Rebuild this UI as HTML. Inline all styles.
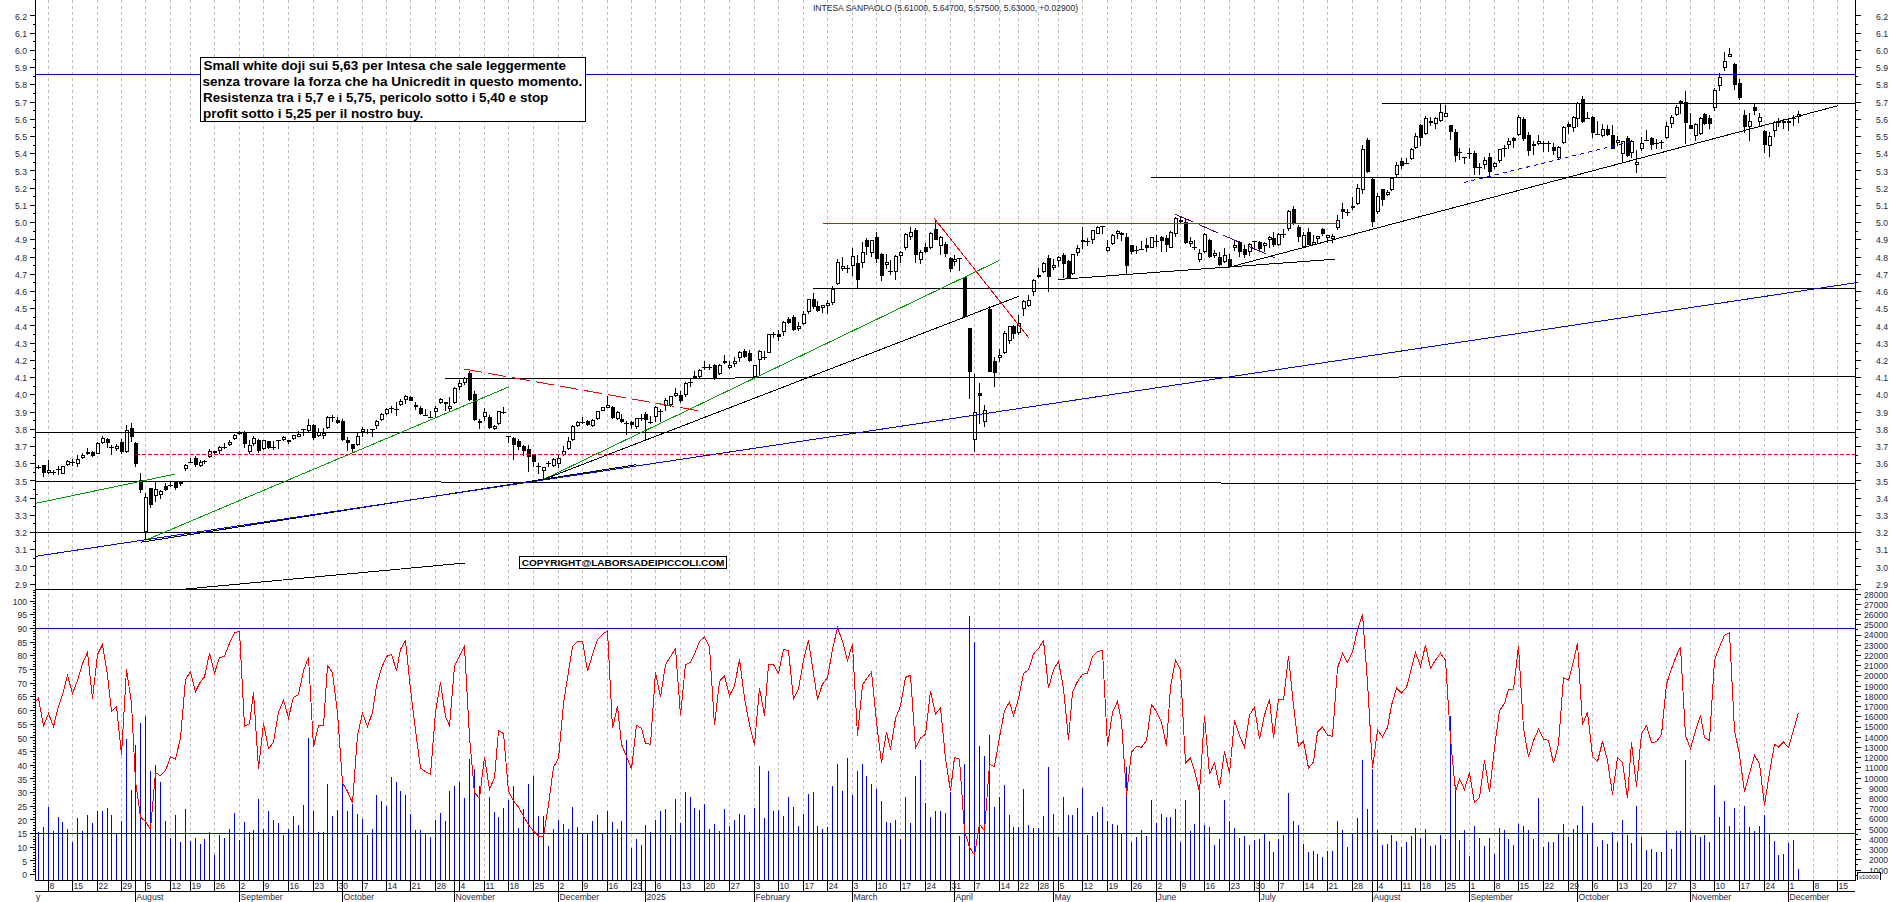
<!DOCTYPE html><html><head><meta charset="utf-8"><title>INTESA SANPAOLO</title>
<style>html,body{margin:0;padding:0;background:#fff}svg{display:block}text{font-family:"Liberation Sans",Arial,sans-serif}</style></head><body>
<svg width="1890" height="902" viewBox="0 0 1890 902">
<rect width="1890" height="902" fill="#fff"/>
<g stroke="#c0c0c0" stroke-width="1" stroke-dasharray="3 3" shape-rendering="crispEdges">
<line x1="48.5" y1="0" x2="48.5" y2="880"/>
<line x1="72.5" y1="0" x2="72.5" y2="880"/>
<line x1="97.5" y1="0" x2="97.5" y2="880"/>
<line x1="121.5" y1="0" x2="121.5" y2="880"/>
<line x1="145.5" y1="0" x2="145.5" y2="880"/>
<line x1="170.5" y1="0" x2="170.5" y2="880"/>
<line x1="190.5" y1="0" x2="190.5" y2="880"/>
<line x1="214.5" y1="0" x2="214.5" y2="880"/>
<line x1="239.5" y1="0" x2="239.5" y2="880"/>
<line x1="263.5" y1="0" x2="263.5" y2="880"/>
<line x1="288.5" y1="0" x2="288.5" y2="880"/>
<line x1="313.5" y1="0" x2="313.5" y2="880"/>
<line x1="337.5" y1="0" x2="337.5" y2="880"/>
<line x1="362.5" y1="0" x2="362.5" y2="880"/>
<line x1="386.5" y1="0" x2="386.5" y2="880"/>
<line x1="410.5" y1="0" x2="410.5" y2="880"/>
<line x1="435.5" y1="0" x2="435.5" y2="880"/>
<line x1="459.5" y1="0" x2="459.5" y2="880"/>
<line x1="484.5" y1="0" x2="484.5" y2="880"/>
<line x1="508.5" y1="0" x2="508.5" y2="880"/>
<line x1="533.5" y1="0" x2="533.5" y2="880"/>
<line x1="558.5" y1="0" x2="558.5" y2="880"/>
<line x1="582.5" y1="0" x2="582.5" y2="880"/>
<line x1="607.5" y1="0" x2="607.5" y2="880"/>
<line x1="631.5" y1="0" x2="631.5" y2="880"/>
<line x1="655.5" y1="0" x2="655.5" y2="880"/>
<line x1="680.5" y1="0" x2="680.5" y2="880"/>
<line x1="704.5" y1="0" x2="704.5" y2="880"/>
<line x1="729.5" y1="0" x2="729.5" y2="880"/>
<line x1="754.5" y1="0" x2="754.5" y2="880"/>
<line x1="778.5" y1="0" x2="778.5" y2="880"/>
<line x1="803.5" y1="0" x2="803.5" y2="880"/>
<line x1="827.5" y1="0" x2="827.5" y2="880"/>
<line x1="852.5" y1="0" x2="852.5" y2="880"/>
<line x1="876.5" y1="0" x2="876.5" y2="880"/>
<line x1="900.5" y1="0" x2="900.5" y2="880"/>
<line x1="925.5" y1="0" x2="925.5" y2="880"/>
<line x1="950.5" y1="0" x2="950.5" y2="880"/>
<line x1="974.5" y1="0" x2="974.5" y2="880"/>
<line x1="999.5" y1="0" x2="999.5" y2="880"/>
<line x1="1018.5" y1="0" x2="1018.5" y2="880"/>
<line x1="1038.5" y1="0" x2="1038.5" y2="880"/>
<line x1="1058.5" y1="0" x2="1058.5" y2="880"/>
<line x1="1082.5" y1="0" x2="1082.5" y2="880"/>
<line x1="1107.5" y1="0" x2="1107.5" y2="880"/>
<line x1="1131.5" y1="0" x2="1131.5" y2="880"/>
<line x1="1156.5" y1="0" x2="1156.5" y2="880"/>
<line x1="1180.5" y1="0" x2="1180.5" y2="880"/>
<line x1="1204.5" y1="0" x2="1204.5" y2="880"/>
<line x1="1229.5" y1="0" x2="1229.5" y2="880"/>
<line x1="1254.5" y1="0" x2="1254.5" y2="880"/>
<line x1="1278.5" y1="0" x2="1278.5" y2="880"/>
<line x1="1303.5" y1="0" x2="1303.5" y2="880"/>
<line x1="1327.5" y1="0" x2="1327.5" y2="880"/>
<line x1="1352.5" y1="0" x2="1352.5" y2="880"/>
<line x1="1377.5" y1="0" x2="1377.5" y2="880"/>
<line x1="1401.5" y1="0" x2="1401.5" y2="880"/>
<line x1="1420.5" y1="0" x2="1420.5" y2="880"/>
<line x1="1445.5" y1="0" x2="1445.5" y2="880"/>
<line x1="1469.5" y1="0" x2="1469.5" y2="880"/>
<line x1="1494.5" y1="0" x2="1494.5" y2="880"/>
<line x1="1518.5" y1="0" x2="1518.5" y2="880"/>
<line x1="1543.5" y1="0" x2="1543.5" y2="880"/>
<line x1="1568.5" y1="0" x2="1568.5" y2="880"/>
<line x1="1592.5" y1="0" x2="1592.5" y2="880"/>
<line x1="1617.5" y1="0" x2="1617.5" y2="880"/>
<line x1="1641.5" y1="0" x2="1641.5" y2="880"/>
<line x1="1666.5" y1="0" x2="1666.5" y2="880"/>
<line x1="1690.5" y1="0" x2="1690.5" y2="880"/>
<line x1="1714.5" y1="0" x2="1714.5" y2="880"/>
<line x1="1739.5" y1="0" x2="1739.5" y2="880"/>
<line x1="1764.5" y1="0" x2="1764.5" y2="880"/>
<line x1="1788.5" y1="0" x2="1788.5" y2="880"/>
<line x1="1813.5" y1="0" x2="1813.5" y2="880"/>
<line x1="1837.5" y1="0" x2="1837.5" y2="880"/>
</g>
<g stroke="#0000ff" stroke-width="1" shape-rendering="crispEdges">
<line x1="38.5" y1="832" x2="38.5" y2="880"/>
<line x1="43.5" y1="827" x2="43.5" y2="880"/>
<line x1="48.5" y1="807" x2="48.5" y2="880"/>
<line x1="53.5" y1="831" x2="53.5" y2="880"/>
<line x1="58.5" y1="817" x2="58.5" y2="880"/>
<line x1="62.5" y1="822" x2="62.5" y2="880"/>
<line x1="67.5" y1="829" x2="67.5" y2="880"/>
<line x1="72.5" y1="842" x2="72.5" y2="880"/>
<line x1="77.5" y1="818" x2="77.5" y2="880"/>
<line x1="82.5" y1="831" x2="82.5" y2="880"/>
<line x1="87.5" y1="815" x2="87.5" y2="880"/>
<line x1="92.5" y1="823" x2="92.5" y2="880"/>
<line x1="97.5" y1="811" x2="97.5" y2="880"/>
<line x1="102.5" y1="811" x2="102.5" y2="880"/>
<line x1="107.5" y1="808" x2="107.5" y2="880"/>
<line x1="111.5" y1="815" x2="111.5" y2="880"/>
<line x1="116.5" y1="834" x2="116.5" y2="880"/>
<line x1="121.5" y1="821" x2="121.5" y2="880"/>
<line x1="126.5" y1="739" x2="126.5" y2="880"/>
<line x1="131.5" y1="790" x2="131.5" y2="880"/>
<line x1="135.5" y1="745" x2="135.5" y2="880"/>
<line x1="140.5" y1="723" x2="140.5" y2="880"/>
<line x1="145.5" y1="716" x2="145.5" y2="880"/>
<line x1="150.5" y1="771" x2="150.5" y2="880"/>
<line x1="155.5" y1="765" x2="155.5" y2="880"/>
<line x1="160.5" y1="782" x2="160.5" y2="880"/>
<line x1="165.5" y1="821" x2="165.5" y2="880"/>
<line x1="170.5" y1="838" x2="170.5" y2="880"/>
<line x1="175.5" y1="815" x2="175.5" y2="880"/>
<line x1="180.5" y1="842" x2="180.5" y2="880"/>
<line x1="185.5" y1="809" x2="185.5" y2="880"/>
<line x1="190.5" y1="841" x2="190.5" y2="880"/>
<line x1="195.5" y1="838" x2="195.5" y2="880"/>
<line x1="200.5" y1="844" x2="200.5" y2="880"/>
<line x1="204.5" y1="839" x2="204.5" y2="880"/>
<line x1="209.5" y1="832" x2="209.5" y2="880"/>
<line x1="214.5" y1="855" x2="214.5" y2="880"/>
<line x1="219.5" y1="835" x2="219.5" y2="880"/>
<line x1="224.5" y1="838" x2="224.5" y2="880"/>
<line x1="229.5" y1="829" x2="229.5" y2="880"/>
<line x1="234.5" y1="813" x2="234.5" y2="880"/>
<line x1="239.5" y1="840" x2="239.5" y2="880"/>
<line x1="244.5" y1="822" x2="244.5" y2="880"/>
<line x1="249.5" y1="832" x2="249.5" y2="880"/>
<line x1="253.5" y1="830" x2="253.5" y2="880"/>
<line x1="258.5" y1="799" x2="258.5" y2="880"/>
<line x1="263.5" y1="829" x2="263.5" y2="880"/>
<line x1="268.5" y1="811" x2="268.5" y2="880"/>
<line x1="273.5" y1="820" x2="273.5" y2="880"/>
<line x1="278.5" y1="823" x2="278.5" y2="880"/>
<line x1="283.5" y1="835" x2="283.5" y2="880"/>
<line x1="288.5" y1="829" x2="288.5" y2="880"/>
<line x1="293.5" y1="816" x2="293.5" y2="880"/>
<line x1="298.5" y1="825" x2="298.5" y2="880"/>
<line x1="303.5" y1="805" x2="303.5" y2="880"/>
<line x1="308.5" y1="738" x2="308.5" y2="880"/>
<line x1="313.5" y1="811" x2="313.5" y2="880"/>
<line x1="318.5" y1="832" x2="318.5" y2="880"/>
<line x1="323.5" y1="832" x2="323.5" y2="880"/>
<line x1="327.5" y1="784" x2="327.5" y2="880"/>
<line x1="332.5" y1="816" x2="332.5" y2="880"/>
<line x1="337.5" y1="810" x2="337.5" y2="880"/>
<line x1="342.5" y1="783" x2="342.5" y2="880"/>
<line x1="347.5" y1="811" x2="347.5" y2="880"/>
<line x1="352.5" y1="804" x2="352.5" y2="880"/>
<line x1="357.5" y1="814" x2="357.5" y2="880"/>
<line x1="362.5" y1="819" x2="362.5" y2="880"/>
<line x1="367.5" y1="835" x2="367.5" y2="880"/>
<line x1="372.5" y1="829" x2="372.5" y2="880"/>
<line x1="376.5" y1="795" x2="376.5" y2="880"/>
<line x1="381.5" y1="801" x2="381.5" y2="880"/>
<line x1="386.5" y1="806" x2="386.5" y2="880"/>
<line x1="391.5" y1="777" x2="391.5" y2="880"/>
<line x1="396.5" y1="782" x2="396.5" y2="880"/>
<line x1="400.5" y1="791" x2="400.5" y2="880"/>
<line x1="405.5" y1="795" x2="405.5" y2="880"/>
<line x1="410.5" y1="814" x2="410.5" y2="880"/>
<line x1="415.5" y1="830" x2="415.5" y2="880"/>
<line x1="420.5" y1="830" x2="420.5" y2="880"/>
<line x1="425.5" y1="834" x2="425.5" y2="880"/>
<line x1="430.5" y1="837" x2="430.5" y2="880"/>
<line x1="435.5" y1="820" x2="435.5" y2="880"/>
<line x1="440.5" y1="813" x2="440.5" y2="880"/>
<line x1="445.5" y1="821" x2="445.5" y2="880"/>
<line x1="449.5" y1="791" x2="449.5" y2="880"/>
<line x1="454.5" y1="786" x2="454.5" y2="880"/>
<line x1="459.5" y1="782" x2="459.5" y2="880"/>
<line x1="464.5" y1="798" x2="464.5" y2="880"/>
<line x1="469.5" y1="759" x2="469.5" y2="880"/>
<line x1="474.5" y1="769" x2="474.5" y2="880"/>
<line x1="479.5" y1="786" x2="479.5" y2="880"/>
<line x1="489.5" y1="797" x2="489.5" y2="880"/>
<line x1="494.5" y1="812" x2="494.5" y2="880"/>
<line x1="498.5" y1="817" x2="498.5" y2="880"/>
<line x1="503.5" y1="808" x2="503.5" y2="880"/>
<line x1="508.5" y1="800" x2="508.5" y2="880"/>
<line x1="513.5" y1="786" x2="513.5" y2="880"/>
<line x1="518.5" y1="828" x2="518.5" y2="880"/>
<line x1="523.5" y1="809" x2="523.5" y2="880"/>
<line x1="528.5" y1="784" x2="528.5" y2="880"/>
<line x1="533.5" y1="776" x2="533.5" y2="880"/>
<line x1="538.5" y1="816" x2="538.5" y2="880"/>
<line x1="543.5" y1="816" x2="543.5" y2="880"/>
<line x1="548.5" y1="846" x2="548.5" y2="880"/>
<line x1="553.5" y1="829" x2="553.5" y2="880"/>
<line x1="558.5" y1="820" x2="558.5" y2="880"/>
<line x1="563.5" y1="824" x2="563.5" y2="880"/>
<line x1="568.5" y1="829" x2="568.5" y2="880"/>
<line x1="572.5" y1="807" x2="572.5" y2="880"/>
<line x1="577.5" y1="827" x2="577.5" y2="880"/>
<line x1="582.5" y1="834" x2="582.5" y2="880"/>
<line x1="587.5" y1="834" x2="587.5" y2="880"/>
<line x1="592.5" y1="821" x2="592.5" y2="880"/>
<line x1="597.5" y1="815" x2="597.5" y2="880"/>
<line x1="602.5" y1="834" x2="602.5" y2="880"/>
<line x1="607.5" y1="811" x2="607.5" y2="880"/>
<line x1="612.5" y1="822" x2="612.5" y2="880"/>
<line x1="617.5" y1="829" x2="617.5" y2="880"/>
<line x1="621.5" y1="821" x2="621.5" y2="880"/>
<line x1="626.5" y1="740" x2="626.5" y2="880"/>
<line x1="631.5" y1="848" x2="631.5" y2="880"/>
<line x1="636.5" y1="839" x2="636.5" y2="880"/>
<line x1="641.5" y1="845" x2="641.5" y2="880"/>
<line x1="645.5" y1="825" x2="645.5" y2="880"/>
<line x1="650.5" y1="832" x2="650.5" y2="880"/>
<line x1="655.5" y1="820" x2="655.5" y2="880"/>
<line x1="660.5" y1="811" x2="660.5" y2="880"/>
<line x1="665.5" y1="809" x2="665.5" y2="880"/>
<line x1="670.5" y1="835" x2="670.5" y2="880"/>
<line x1="675.5" y1="799" x2="675.5" y2="880"/>
<line x1="680.5" y1="823" x2="680.5" y2="880"/>
<line x1="685.5" y1="792" x2="685.5" y2="880"/>
<line x1="690.5" y1="797" x2="690.5" y2="880"/>
<line x1="694.5" y1="808" x2="694.5" y2="880"/>
<line x1="699.5" y1="810" x2="699.5" y2="880"/>
<line x1="704.5" y1="804" x2="704.5" y2="880"/>
<line x1="709.5" y1="829" x2="709.5" y2="880"/>
<line x1="714.5" y1="824" x2="714.5" y2="880"/>
<line x1="719.5" y1="831" x2="719.5" y2="880"/>
<line x1="724.5" y1="809" x2="724.5" y2="880"/>
<line x1="729.5" y1="826" x2="729.5" y2="880"/>
<line x1="734.5" y1="820" x2="734.5" y2="880"/>
<line x1="739.5" y1="814" x2="739.5" y2="880"/>
<line x1="744.5" y1="815" x2="744.5" y2="880"/>
<line x1="749.5" y1="832" x2="749.5" y2="880"/>
<line x1="754.5" y1="808" x2="754.5" y2="880"/>
<line x1="759.5" y1="766" x2="759.5" y2="880"/>
<line x1="764.5" y1="818" x2="764.5" y2="880"/>
<line x1="768.5" y1="771" x2="768.5" y2="880"/>
<line x1="773.5" y1="811" x2="773.5" y2="880"/>
<line x1="778.5" y1="810" x2="778.5" y2="880"/>
<line x1="783.5" y1="816" x2="783.5" y2="880"/>
<line x1="788.5" y1="797" x2="788.5" y2="880"/>
<line x1="793.5" y1="807" x2="793.5" y2="880"/>
<line x1="798.5" y1="826" x2="798.5" y2="880"/>
<line x1="803.5" y1="814" x2="803.5" y2="880"/>
<line x1="808.5" y1="794" x2="808.5" y2="880"/>
<line x1="813.5" y1="792" x2="813.5" y2="880"/>
<line x1="817.5" y1="826" x2="817.5" y2="880"/>
<line x1="822.5" y1="829" x2="822.5" y2="880"/>
<line x1="827.5" y1="827" x2="827.5" y2="880"/>
<line x1="832.5" y1="786" x2="832.5" y2="880"/>
<line x1="837.5" y1="764" x2="837.5" y2="880"/>
<line x1="842.5" y1="791" x2="842.5" y2="880"/>
<line x1="847.5" y1="758" x2="847.5" y2="880"/>
<line x1="852.5" y1="795" x2="852.5" y2="880"/>
<line x1="857.5" y1="771" x2="857.5" y2="880"/>
<line x1="862.5" y1="764" x2="862.5" y2="880"/>
<line x1="866.5" y1="776" x2="866.5" y2="880"/>
<line x1="871.5" y1="784" x2="871.5" y2="880"/>
<line x1="876.5" y1="789" x2="876.5" y2="880"/>
<line x1="881.5" y1="801" x2="881.5" y2="880"/>
<line x1="886.5" y1="822" x2="886.5" y2="880"/>
<line x1="890.5" y1="823" x2="890.5" y2="880"/>
<line x1="895.5" y1="820" x2="895.5" y2="880"/>
<line x1="900.5" y1="839" x2="900.5" y2="880"/>
<line x1="905.5" y1="797" x2="905.5" y2="880"/>
<line x1="910.5" y1="823" x2="910.5" y2="880"/>
<line x1="915.5" y1="776" x2="915.5" y2="880"/>
<line x1="920.5" y1="760" x2="920.5" y2="880"/>
<line x1="925.5" y1="803" x2="925.5" y2="880"/>
<line x1="930.5" y1="817" x2="930.5" y2="880"/>
<line x1="935.5" y1="811" x2="935.5" y2="880"/>
<line x1="940.5" y1="811" x2="940.5" y2="880"/>
<line x1="945.5" y1="813" x2="945.5" y2="880"/>
<line x1="950.5" y1="792" x2="950.5" y2="880"/>
<line x1="959.5" y1="836" x2="959.5" y2="880"/>
<line x1="964.5" y1="764" x2="964.5" y2="880"/>
<line x1="969.5" y1="616" x2="969.5" y2="880"/>
<line x1="974.5" y1="642" x2="974.5" y2="880"/>
<line x1="979.5" y1="746" x2="979.5" y2="880"/>
<line x1="984.5" y1="756" x2="984.5" y2="880"/>
<line x1="989.5" y1="735" x2="989.5" y2="880"/>
<line x1="994.5" y1="807" x2="994.5" y2="880"/>
<line x1="999.5" y1="797" x2="999.5" y2="880"/>
<line x1="1004.5" y1="785" x2="1004.5" y2="880"/>
<line x1="1009.5" y1="815" x2="1009.5" y2="880"/>
<line x1="1013.5" y1="827" x2="1013.5" y2="880"/>
<line x1="1018.5" y1="827" x2="1018.5" y2="880"/>
<line x1="1023.5" y1="789" x2="1023.5" y2="880"/>
<line x1="1028.5" y1="825" x2="1028.5" y2="880"/>
<line x1="1033.5" y1="828" x2="1033.5" y2="880"/>
<line x1="1038.5" y1="828" x2="1038.5" y2="880"/>
<line x1="1043.5" y1="816" x2="1043.5" y2="880"/>
<line x1="1048.5" y1="767" x2="1048.5" y2="880"/>
<line x1="1053.5" y1="814" x2="1053.5" y2="880"/>
<line x1="1058.5" y1="837" x2="1058.5" y2="880"/>
<line x1="1063.5" y1="797" x2="1063.5" y2="880"/>
<line x1="1068.5" y1="815" x2="1068.5" y2="880"/>
<line x1="1072.5" y1="815" x2="1072.5" y2="880"/>
<line x1="1077.5" y1="808" x2="1077.5" y2="880"/>
<line x1="1082.5" y1="788" x2="1082.5" y2="880"/>
<line x1="1087.5" y1="835" x2="1087.5" y2="880"/>
<line x1="1092.5" y1="816" x2="1092.5" y2="880"/>
<line x1="1097.5" y1="812" x2="1097.5" y2="880"/>
<line x1="1102.5" y1="807" x2="1102.5" y2="880"/>
<line x1="1107.5" y1="821" x2="1107.5" y2="880"/>
<line x1="1112.5" y1="824" x2="1112.5" y2="880"/>
<line x1="1117.5" y1="825" x2="1117.5" y2="880"/>
<line x1="1121.5" y1="833" x2="1121.5" y2="880"/>
<line x1="1126.5" y1="767" x2="1126.5" y2="880"/>
<line x1="1131.5" y1="842" x2="1131.5" y2="880"/>
<line x1="1136.5" y1="837" x2="1136.5" y2="880"/>
<line x1="1141.5" y1="830" x2="1141.5" y2="880"/>
<line x1="1146.5" y1="836" x2="1146.5" y2="880"/>
<line x1="1151.5" y1="800" x2="1151.5" y2="880"/>
<line x1="1156.5" y1="823" x2="1156.5" y2="880"/>
<line x1="1161.5" y1="814" x2="1161.5" y2="880"/>
<line x1="1166.5" y1="817" x2="1166.5" y2="880"/>
<line x1="1170.5" y1="817" x2="1170.5" y2="880"/>
<line x1="1175.5" y1="809" x2="1175.5" y2="880"/>
<line x1="1180.5" y1="842" x2="1180.5" y2="880"/>
<line x1="1185.5" y1="800" x2="1185.5" y2="880"/>
<line x1="1190.5" y1="831" x2="1190.5" y2="880"/>
<line x1="1194.5" y1="824" x2="1194.5" y2="880"/>
<line x1="1199.5" y1="792" x2="1199.5" y2="880"/>
<line x1="1204.5" y1="825" x2="1204.5" y2="880"/>
<line x1="1209.5" y1="827" x2="1209.5" y2="880"/>
<line x1="1214.5" y1="845" x2="1214.5" y2="880"/>
<line x1="1219.5" y1="839" x2="1219.5" y2="880"/>
<line x1="1224.5" y1="800" x2="1224.5" y2="880"/>
<line x1="1229.5" y1="821" x2="1229.5" y2="880"/>
<line x1="1234.5" y1="828" x2="1234.5" y2="880"/>
<line x1="1239.5" y1="838" x2="1239.5" y2="880"/>
<line x1="1244.5" y1="836" x2="1244.5" y2="880"/>
<line x1="1249.5" y1="845" x2="1249.5" y2="880"/>
<line x1="1254.5" y1="840" x2="1254.5" y2="880"/>
<line x1="1259.5" y1="839" x2="1259.5" y2="880"/>
<line x1="1264.5" y1="834" x2="1264.5" y2="880"/>
<line x1="1269.5" y1="841" x2="1269.5" y2="880"/>
<line x1="1273.5" y1="852" x2="1273.5" y2="880"/>
<line x1="1278.5" y1="839" x2="1278.5" y2="880"/>
<line x1="1283.5" y1="835" x2="1283.5" y2="880"/>
<line x1="1288.5" y1="793" x2="1288.5" y2="880"/>
<line x1="1293.5" y1="821" x2="1293.5" y2="880"/>
<line x1="1298.5" y1="825" x2="1298.5" y2="880"/>
<line x1="1303.5" y1="844" x2="1303.5" y2="880"/>
<line x1="1308.5" y1="852" x2="1308.5" y2="880"/>
<line x1="1313.5" y1="851" x2="1313.5" y2="880"/>
<line x1="1317.5" y1="854" x2="1317.5" y2="880"/>
<line x1="1322.5" y1="857" x2="1322.5" y2="880"/>
<line x1="1327.5" y1="851" x2="1327.5" y2="880"/>
<line x1="1332.5" y1="851" x2="1332.5" y2="880"/>
<line x1="1337.5" y1="821" x2="1337.5" y2="880"/>
<line x1="1342.5" y1="830" x2="1342.5" y2="880"/>
<line x1="1347.5" y1="847" x2="1347.5" y2="880"/>
<line x1="1352.5" y1="834" x2="1352.5" y2="880"/>
<line x1="1357.5" y1="818" x2="1357.5" y2="880"/>
<line x1="1362.5" y1="760" x2="1362.5" y2="880"/>
<line x1="1367.5" y1="809" x2="1367.5" y2="880"/>
<line x1="1372.5" y1="769" x2="1372.5" y2="880"/>
<line x1="1377.5" y1="830" x2="1377.5" y2="880"/>
<line x1="1382.5" y1="845" x2="1382.5" y2="880"/>
<line x1="1387.5" y1="844" x2="1387.5" y2="880"/>
<line x1="1391.5" y1="835" x2="1391.5" y2="880"/>
<line x1="1396.5" y1="841" x2="1396.5" y2="880"/>
<line x1="1401.5" y1="847" x2="1401.5" y2="880"/>
<line x1="1406.5" y1="842" x2="1406.5" y2="880"/>
<line x1="1411.5" y1="836" x2="1411.5" y2="880"/>
<line x1="1415.5" y1="828" x2="1415.5" y2="880"/>
<line x1="1420.5" y1="838" x2="1420.5" y2="880"/>
<line x1="1425.5" y1="829" x2="1425.5" y2="880"/>
<line x1="1430.5" y1="846" x2="1430.5" y2="880"/>
<line x1="1435.5" y1="845" x2="1435.5" y2="880"/>
<line x1="1440.5" y1="835" x2="1440.5" y2="880"/>
<line x1="1445.5" y1="839" x2="1445.5" y2="880"/>
<line x1="1450.5" y1="716" x2="1450.5" y2="880"/>
<line x1="1455.5" y1="785" x2="1455.5" y2="880"/>
<line x1="1459.5" y1="840" x2="1459.5" y2="880"/>
<line x1="1464.5" y1="830" x2="1464.5" y2="880"/>
<line x1="1469.5" y1="856" x2="1469.5" y2="880"/>
<line x1="1474.5" y1="826" x2="1474.5" y2="880"/>
<line x1="1479.5" y1="838" x2="1479.5" y2="880"/>
<line x1="1484.5" y1="846" x2="1484.5" y2="880"/>
<line x1="1489.5" y1="838" x2="1489.5" y2="880"/>
<line x1="1494.5" y1="854" x2="1494.5" y2="880"/>
<line x1="1499.5" y1="828" x2="1499.5" y2="880"/>
<line x1="1504.5" y1="830" x2="1504.5" y2="880"/>
<line x1="1508.5" y1="839" x2="1508.5" y2="880"/>
<line x1="1513.5" y1="845" x2="1513.5" y2="880"/>
<line x1="1518.5" y1="824" x2="1518.5" y2="880"/>
<line x1="1523.5" y1="826" x2="1523.5" y2="880"/>
<line x1="1528.5" y1="830" x2="1528.5" y2="880"/>
<line x1="1533.5" y1="839" x2="1533.5" y2="880"/>
<line x1="1538.5" y1="798" x2="1538.5" y2="880"/>
<line x1="1543.5" y1="847" x2="1543.5" y2="880"/>
<line x1="1548.5" y1="842" x2="1548.5" y2="880"/>
<line x1="1553.5" y1="842" x2="1553.5" y2="880"/>
<line x1="1558.5" y1="834" x2="1558.5" y2="880"/>
<line x1="1563.5" y1="824" x2="1563.5" y2="880"/>
<line x1="1568.5" y1="837" x2="1568.5" y2="880"/>
<line x1="1573.5" y1="829" x2="1573.5" y2="880"/>
<line x1="1577.5" y1="825" x2="1577.5" y2="880"/>
<line x1="1582.5" y1="806" x2="1582.5" y2="880"/>
<line x1="1587.5" y1="834" x2="1587.5" y2="880"/>
<line x1="1592.5" y1="823" x2="1592.5" y2="880"/>
<line x1="1597.5" y1="847" x2="1597.5" y2="880"/>
<line x1="1602.5" y1="840" x2="1602.5" y2="880"/>
<line x1="1607.5" y1="844" x2="1607.5" y2="880"/>
<line x1="1612.5" y1="832" x2="1612.5" y2="880"/>
<line x1="1617.5" y1="842" x2="1617.5" y2="880"/>
<line x1="1622.5" y1="820" x2="1622.5" y2="880"/>
<line x1="1627.5" y1="835" x2="1627.5" y2="880"/>
<line x1="1631.5" y1="843" x2="1631.5" y2="880"/>
<line x1="1636.5" y1="806" x2="1636.5" y2="880"/>
<line x1="1641.5" y1="837" x2="1641.5" y2="880"/>
<line x1="1646.5" y1="850" x2="1646.5" y2="880"/>
<line x1="1651.5" y1="849" x2="1651.5" y2="880"/>
<line x1="1656.5" y1="852" x2="1656.5" y2="880"/>
<line x1="1661.5" y1="852" x2="1661.5" y2="880"/>
<line x1="1666.5" y1="831" x2="1666.5" y2="880"/>
<line x1="1671.5" y1="849" x2="1671.5" y2="880"/>
<line x1="1676.5" y1="831" x2="1676.5" y2="880"/>
<line x1="1680.5" y1="831" x2="1680.5" y2="880"/>
<line x1="1685.5" y1="760" x2="1685.5" y2="880"/>
<line x1="1690.5" y1="831" x2="1690.5" y2="880"/>
<line x1="1695.5" y1="835" x2="1695.5" y2="880"/>
<line x1="1700.5" y1="837" x2="1700.5" y2="880"/>
<line x1="1704.5" y1="835" x2="1704.5" y2="880"/>
<line x1="1709.5" y1="842" x2="1709.5" y2="880"/>
<line x1="1714.5" y1="785" x2="1714.5" y2="880"/>
<line x1="1719.5" y1="817" x2="1719.5" y2="880"/>
<line x1="1724.5" y1="801" x2="1724.5" y2="880"/>
<line x1="1729.5" y1="826" x2="1729.5" y2="880"/>
<line x1="1734.5" y1="808" x2="1734.5" y2="880"/>
<line x1="1739.5" y1="832" x2="1739.5" y2="880"/>
<line x1="1744.5" y1="806" x2="1744.5" y2="880"/>
<line x1="1749.5" y1="827" x2="1749.5" y2="880"/>
<line x1="1754.5" y1="831" x2="1754.5" y2="880"/>
<line x1="1759.5" y1="826" x2="1759.5" y2="880"/>
<line x1="1764.5" y1="815" x2="1764.5" y2="880"/>
<line x1="1769.5" y1="834" x2="1769.5" y2="880"/>
<line x1="1774.5" y1="841" x2="1774.5" y2="880"/>
<line x1="1778.5" y1="855" x2="1778.5" y2="880"/>
<line x1="1783.5" y1="854" x2="1783.5" y2="880"/>
<line x1="1788.5" y1="843" x2="1788.5" y2="880"/>
<line x1="1793.5" y1="840" x2="1793.5" y2="880"/>
<line x1="1798.5" y1="869" x2="1798.5" y2="880"/>
</g>
<g shape-rendering="crispEdges" stroke="#000" stroke-width="1">
<line x1="38.5" y1="465" x2="38.5" y2="469"/>
<line x1="36.0" y1="467.5" x2="41.0" y2="467.5"/>
<line x1="43.5" y1="465" x2="43.5" y2="477"/>
<rect x="42.0" y="465.5" width="3" height="7" fill="#000"/>
<line x1="48.5" y1="460" x2="48.5" y2="474"/>
<rect x="47.0" y="470.5" width="3" height="2" fill="#fff"/>
<line x1="53.5" y1="470" x2="53.5" y2="475"/>
<line x1="51.0" y1="472.5" x2="56.0" y2="472.5"/>
<line x1="58.5" y1="466" x2="58.5" y2="475"/>
<line x1="56.0" y1="469.5" x2="61.0" y2="469.5"/>
<line x1="62.5" y1="466" x2="62.5" y2="474"/>
<rect x="61.0" y="466.5" width="3" height="7" fill="#fff"/>
<line x1="67.5" y1="460" x2="67.5" y2="466"/>
<rect x="66.0" y="461.5" width="3" height="3" fill="#fff"/>
<line x1="72.5" y1="459" x2="72.5" y2="466"/>
<line x1="70.0" y1="462.5" x2="75.0" y2="462.5"/>
<line x1="77.5" y1="455" x2="77.5" y2="467"/>
<rect x="76.0" y="459.5" width="3" height="4" fill="#fff"/>
<line x1="82.5" y1="453" x2="82.5" y2="459"/>
<rect x="81.0" y="455.5" width="3" height="2" fill="#fff"/>
<line x1="87.5" y1="448" x2="87.5" y2="455"/>
<rect x="86.0" y="452.5" width="3" height="1" fill="#000"/>
<line x1="92.5" y1="451" x2="92.5" y2="457"/>
<rect x="91.0" y="452.5" width="3" height="3" fill="#000"/>
<line x1="97.5" y1="442" x2="97.5" y2="454"/>
<rect x="96.0" y="443.5" width="3" height="10" fill="#fff"/>
<line x1="102.5" y1="436" x2="102.5" y2="444"/>
<rect x="101.0" y="438.5" width="3" height="4" fill="#fff"/>
<line x1="107.5" y1="438" x2="107.5" y2="448"/>
<rect x="106.0" y="439.5" width="3" height="3" fill="#000"/>
<line x1="111.5" y1="445" x2="111.5" y2="455"/>
<line x1="109.0" y1="447.5" x2="114.0" y2="447.5"/>
<line x1="116.5" y1="444" x2="116.5" y2="451"/>
<rect x="115.0" y="446.5" width="3" height="2" fill="#fff"/>
<line x1="121.5" y1="439" x2="121.5" y2="454"/>
<rect x="120.0" y="442.5" width="3" height="9" fill="#000"/>
<line x1="126.5" y1="425" x2="126.5" y2="453"/>
<rect x="125.0" y="430.5" width="3" height="21" fill="#fff"/>
<line x1="131.5" y1="423" x2="131.5" y2="442"/>
<rect x="130.0" y="428.5" width="3" height="8" fill="#000"/>
<line x1="135.5" y1="442" x2="135.5" y2="467"/>
<rect x="134.0" y="443.5" width="3" height="20" fill="#000"/>
<line x1="140.5" y1="473" x2="140.5" y2="493"/>
<rect x="139.0" y="480.5" width="3" height="9" fill="#000"/>
<line x1="145.5" y1="493" x2="145.5" y2="540"/>
<rect x="144.0" y="497.5" width="3" height="34" fill="#fff"/>
<line x1="150.5" y1="488" x2="150.5" y2="508"/>
<rect x="149.0" y="488.5" width="3" height="16" fill="#000"/>
<line x1="155.5" y1="482" x2="155.5" y2="502"/>
<rect x="154.0" y="489.5" width="3" height="6" fill="#fff"/>
<line x1="160.5" y1="490" x2="160.5" y2="499"/>
<rect x="159.0" y="491.5" width="3" height="3" fill="#fff"/>
<line x1="165.5" y1="483" x2="165.5" y2="491"/>
<rect x="164.0" y="486.5" width="3" height="3" fill="#000"/>
<line x1="170.5" y1="482" x2="170.5" y2="487"/>
<line x1="168.0" y1="485.5" x2="173.0" y2="485.5"/>
<line x1="175.5" y1="482" x2="175.5" y2="490"/>
<rect x="174.0" y="482.5" width="3" height="5" fill="#000"/>
<line x1="180.5" y1="482" x2="180.5" y2="486"/>
<rect x="179.0" y="482.5" width="3" height="1" fill="#000"/>
<line x1="185.5" y1="464" x2="185.5" y2="471"/>
<rect x="184.0" y="465.5" width="3" height="3" fill="#fff"/>
<line x1="190.5" y1="458" x2="190.5" y2="463"/>
<line x1="188.0" y1="462.5" x2="193.0" y2="462.5"/>
<line x1="195.5" y1="456" x2="195.5" y2="467"/>
<rect x="194.0" y="458.5" width="3" height="6" fill="#000"/>
<line x1="200.5" y1="460" x2="200.5" y2="467"/>
<rect x="199.0" y="462.5" width="3" height="3" fill="#fff"/>
<line x1="204.5" y1="460" x2="204.5" y2="464"/>
<line x1="202.0" y1="461.5" x2="207.0" y2="461.5"/>
<line x1="209.5" y1="449" x2="209.5" y2="458"/>
<rect x="208.0" y="451.5" width="3" height="5" fill="#fff"/>
<line x1="214.5" y1="451" x2="214.5" y2="454"/>
<rect x="213.0" y="451.5" width="3" height="1" fill="#000"/>
<line x1="219.5" y1="446" x2="219.5" y2="454"/>
<rect x="218.0" y="447.5" width="3" height="3" fill="#fff"/>
<line x1="224.5" y1="443" x2="224.5" y2="449"/>
<line x1="222.0" y1="447.5" x2="227.0" y2="447.5"/>
<line x1="229.5" y1="440" x2="229.5" y2="446"/>
<rect x="228.0" y="442.5" width="3" height="2" fill="#fff"/>
<line x1="234.5" y1="434" x2="234.5" y2="440"/>
<rect x="233.0" y="435.5" width="3" height="3" fill="#fff"/>
<line x1="239.5" y1="431" x2="239.5" y2="435"/>
<line x1="237.0" y1="433.5" x2="242.0" y2="433.5"/>
<line x1="244.5" y1="431" x2="244.5" y2="448"/>
<rect x="243.0" y="432.5" width="3" height="11" fill="#000"/>
<line x1="249.5" y1="440" x2="249.5" y2="454"/>
<rect x="248.0" y="445.5" width="3" height="6" fill="#fff"/>
<line x1="253.5" y1="436" x2="253.5" y2="446"/>
<rect x="252.0" y="438.5" width="3" height="5" fill="#fff"/>
<line x1="258.5" y1="439" x2="258.5" y2="453"/>
<rect x="257.0" y="440.5" width="3" height="10" fill="#000"/>
<line x1="263.5" y1="440" x2="263.5" y2="450"/>
<rect x="262.0" y="440.5" width="3" height="8" fill="#fff"/>
<line x1="268.5" y1="441" x2="268.5" y2="449"/>
<rect x="267.0" y="441.5" width="3" height="6" fill="#000"/>
<line x1="273.5" y1="441" x2="273.5" y2="450"/>
<line x1="271.0" y1="447.5" x2="276.0" y2="447.5"/>
<line x1="278.5" y1="440" x2="278.5" y2="449"/>
<line x1="276.0" y1="440.5" x2="281.0" y2="440.5"/>
<line x1="283.5" y1="436" x2="283.5" y2="441"/>
<rect x="282.0" y="437.5" width="3" height="2" fill="#fff"/>
<line x1="288.5" y1="440" x2="288.5" y2="444"/>
<rect x="287.0" y="440.5" width="3" height="1" fill="#000"/>
<line x1="293.5" y1="435" x2="293.5" y2="440"/>
<rect x="292.0" y="435.5" width="3" height="3" fill="#fff"/>
<line x1="298.5" y1="431" x2="298.5" y2="436"/>
<rect x="297.0" y="434.5" width="3" height="2" fill="#fff"/>
<line x1="303.5" y1="429" x2="303.5" y2="436"/>
<line x1="301.0" y1="429.5" x2="306.0" y2="429.5"/>
<line x1="308.5" y1="419" x2="308.5" y2="432"/>
<rect x="307.0" y="425.5" width="3" height="5" fill="#fff"/>
<line x1="313.5" y1="424" x2="313.5" y2="440"/>
<rect x="312.0" y="425.5" width="3" height="12" fill="#000"/>
<line x1="318.5" y1="428" x2="318.5" y2="437"/>
<rect x="317.0" y="432.5" width="3" height="3" fill="#fff"/>
<line x1="323.5" y1="428" x2="323.5" y2="439"/>
<rect x="322.0" y="433.5" width="3" height="2" fill="#fff"/>
<line x1="327.5" y1="416" x2="327.5" y2="429"/>
<rect x="326.0" y="417.5" width="3" height="10" fill="#fff"/>
<line x1="332.5" y1="415" x2="332.5" y2="422"/>
<line x1="330.0" y1="417.5" x2="335.0" y2="417.5"/>
<line x1="337.5" y1="417" x2="337.5" y2="424"/>
<rect x="336.0" y="420.5" width="3" height="2" fill="#000"/>
<line x1="342.5" y1="419" x2="342.5" y2="441"/>
<rect x="341.0" y="421.5" width="3" height="18" fill="#000"/>
<line x1="347.5" y1="437" x2="347.5" y2="451"/>
<rect x="346.0" y="440.5" width="3" height="2" fill="#000"/>
<line x1="352.5" y1="444" x2="352.5" y2="453"/>
<rect x="351.0" y="444.5" width="3" height="4" fill="#000"/>
<line x1="357.5" y1="432" x2="357.5" y2="446"/>
<rect x="356.0" y="436.5" width="3" height="8" fill="#fff"/>
<line x1="362.5" y1="427" x2="362.5" y2="437"/>
<rect x="361.0" y="429.5" width="3" height="2" fill="#fff"/>
<line x1="367.5" y1="429" x2="367.5" y2="434"/>
<line x1="365.0" y1="432.5" x2="370.0" y2="432.5"/>
<line x1="372.5" y1="429" x2="372.5" y2="437"/>
<line x1="370.0" y1="429.5" x2="375.0" y2="429.5"/>
<line x1="376.5" y1="420" x2="376.5" y2="429"/>
<rect x="375.0" y="421.5" width="3" height="4" fill="#fff"/>
<line x1="381.5" y1="413" x2="381.5" y2="421"/>
<rect x="380.0" y="414.5" width="3" height="5" fill="#fff"/>
<line x1="386.5" y1="408" x2="386.5" y2="415"/>
<rect x="385.0" y="409.5" width="3" height="4" fill="#fff"/>
<line x1="391.5" y1="406" x2="391.5" y2="413"/>
<line x1="389.0" y1="408.5" x2="394.0" y2="408.5"/>
<line x1="396.5" y1="402" x2="396.5" y2="416"/>
<line x1="394.0" y1="409.5" x2="399.0" y2="409.5"/>
<line x1="400.5" y1="399" x2="400.5" y2="406"/>
<rect x="399.0" y="401.5" width="3" height="3" fill="#fff"/>
<line x1="405.5" y1="395" x2="405.5" y2="404"/>
<rect x="404.0" y="396.5" width="3" height="3" fill="#fff"/>
<line x1="410.5" y1="396" x2="410.5" y2="401"/>
<rect x="409.0" y="397.5" width="3" height="3" fill="#000"/>
<line x1="415.5" y1="402" x2="415.5" y2="410"/>
<rect x="414.0" y="405.5" width="3" height="1" fill="#000"/>
<line x1="420.5" y1="406" x2="420.5" y2="415"/>
<rect x="419.0" y="408.5" width="3" height="5" fill="#000"/>
<line x1="425.5" y1="409" x2="425.5" y2="415"/>
<line x1="423.0" y1="415.5" x2="428.0" y2="415.5"/>
<line x1="430.5" y1="411" x2="430.5" y2="417"/>
<line x1="428.0" y1="417.5" x2="433.0" y2="417.5"/>
<line x1="435.5" y1="406" x2="435.5" y2="417"/>
<rect x="434.0" y="408.5" width="3" height="3" fill="#fff"/>
<line x1="440.5" y1="398" x2="440.5" y2="404"/>
<rect x="439.0" y="399.5" width="3" height="3" fill="#fff"/>
<line x1="445.5" y1="402" x2="445.5" y2="411"/>
<rect x="444.0" y="402.5" width="3" height="1" fill="#000"/>
<line x1="449.5" y1="397" x2="449.5" y2="411"/>
<rect x="448.0" y="406.5" width="3" height="2" fill="#fff"/>
<line x1="454.5" y1="387" x2="454.5" y2="404"/>
<rect x="453.0" y="388.5" width="3" height="14" fill="#fff"/>
<line x1="459.5" y1="380" x2="459.5" y2="390"/>
<rect x="458.0" y="383.5" width="3" height="3" fill="#fff"/>
<line x1="464.5" y1="377" x2="464.5" y2="385"/>
<rect x="463.0" y="378.5" width="3" height="4" fill="#fff"/>
<line x1="469.5" y1="371" x2="469.5" y2="401"/>
<rect x="468.0" y="373.5" width="3" height="26" fill="#000"/>
<line x1="474.5" y1="391" x2="474.5" y2="421"/>
<rect x="473.0" y="394.5" width="3" height="25" fill="#000"/>
<line x1="479.5" y1="419" x2="479.5" y2="429"/>
<rect x="478.0" y="421.5" width="3" height="1" fill="#000"/>
<line x1="484.5" y1="408" x2="484.5" y2="421"/>
<rect x="483.0" y="412.5" width="3" height="4" fill="#fff"/>
<line x1="489.5" y1="415" x2="489.5" y2="429"/>
<rect x="488.0" y="417.5" width="3" height="10" fill="#000"/>
<line x1="494.5" y1="425" x2="494.5" y2="430"/>
<rect x="493.0" y="426.5" width="3" height="2" fill="#fff"/>
<line x1="498.5" y1="411" x2="498.5" y2="425"/>
<rect x="497.0" y="411.5" width="3" height="12" fill="#fff"/>
<line x1="503.5" y1="407" x2="503.5" y2="414"/>
<line x1="501.0" y1="412.5" x2="506.0" y2="412.5"/>
<line x1="508.5" y1="436" x2="508.5" y2="443"/>
<line x1="506.0" y1="436.5" x2="511.0" y2="436.5"/>
<line x1="513.5" y1="437" x2="513.5" y2="460"/>
<rect x="512.0" y="438.5" width="3" height="6" fill="#000"/>
<line x1="518.5" y1="439" x2="518.5" y2="450"/>
<rect x="517.0" y="441.5" width="3" height="5" fill="#000"/>
<line x1="523.5" y1="445" x2="523.5" y2="456"/>
<rect x="522.0" y="446.5" width="3" height="4" fill="#000"/>
<line x1="528.5" y1="445" x2="528.5" y2="472"/>
<rect x="527.0" y="449.5" width="3" height="7" fill="#000"/>
<line x1="533.5" y1="454" x2="533.5" y2="467"/>
<rect x="532.0" y="454.5" width="3" height="7" fill="#000"/>
<line x1="538.5" y1="463" x2="538.5" y2="474"/>
<line x1="536.0" y1="466.5" x2="541.0" y2="466.5"/>
<line x1="543.5" y1="467" x2="543.5" y2="480"/>
<rect x="542.0" y="467.5" width="3" height="3" fill="#fff"/>
<line x1="548.5" y1="461" x2="548.5" y2="467"/>
<line x1="546.0" y1="463.5" x2="551.0" y2="463.5"/>
<line x1="553.5" y1="458" x2="553.5" y2="467"/>
<rect x="552.0" y="459.5" width="3" height="6" fill="#fff"/>
<line x1="558.5" y1="454" x2="558.5" y2="468"/>
<rect x="557.0" y="458.5" width="3" height="5" fill="#fff"/>
<line x1="563.5" y1="446" x2="563.5" y2="456"/>
<rect x="562.0" y="451.5" width="3" height="3" fill="#fff"/>
<line x1="568.5" y1="437" x2="568.5" y2="450"/>
<rect x="567.0" y="441.5" width="3" height="7" fill="#fff"/>
<line x1="572.5" y1="425" x2="572.5" y2="441"/>
<rect x="571.0" y="426.5" width="3" height="13" fill="#fff"/>
<line x1="577.5" y1="421" x2="577.5" y2="427"/>
<rect x="576.0" y="422.5" width="3" height="3" fill="#fff"/>
<line x1="582.5" y1="417" x2="582.5" y2="424"/>
<line x1="580.0" y1="422.5" x2="585.0" y2="422.5"/>
<line x1="587.5" y1="420" x2="587.5" y2="426"/>
<rect x="586.0" y="421.5" width="3" height="3" fill="#000"/>
<line x1="592.5" y1="419" x2="592.5" y2="427"/>
<rect x="591.0" y="420.5" width="3" height="5" fill="#fff"/>
<line x1="597.5" y1="411" x2="597.5" y2="420"/>
<rect x="596.0" y="411.5" width="3" height="7" fill="#fff"/>
<line x1="602.5" y1="407" x2="602.5" y2="411"/>
<rect x="601.0" y="407.5" width="3" height="3" fill="#fff"/>
<line x1="607.5" y1="396" x2="607.5" y2="408"/>
<rect x="606.0" y="405.5" width="3" height="2" fill="#fff"/>
<line x1="612.5" y1="406" x2="612.5" y2="419"/>
<rect x="611.0" y="407.5" width="3" height="10" fill="#000"/>
<line x1="617.5" y1="411" x2="617.5" y2="420"/>
<rect x="616.0" y="412.5" width="3" height="6" fill="#fff"/>
<line x1="621.5" y1="414" x2="621.5" y2="423"/>
<rect x="620.0" y="419.5" width="3" height="2" fill="#000"/>
<line x1="626.5" y1="421" x2="626.5" y2="435"/>
<line x1="624.0" y1="423.5" x2="629.0" y2="423.5"/>
<line x1="631.5" y1="421" x2="631.5" y2="429"/>
<rect x="630.0" y="422.5" width="3" height="2" fill="#000"/>
<line x1="636.5" y1="418" x2="636.5" y2="429"/>
<rect x="635.0" y="418.5" width="3" height="8" fill="#fff"/>
<line x1="641.5" y1="414" x2="641.5" y2="421"/>
<line x1="639.0" y1="418.5" x2="644.0" y2="418.5"/>
<line x1="645.5" y1="412" x2="645.5" y2="441"/>
<rect x="644.0" y="414.5" width="3" height="5" fill="#000"/>
<line x1="650.5" y1="416" x2="650.5" y2="424"/>
<line x1="648.0" y1="422.5" x2="653.0" y2="422.5"/>
<line x1="655.5" y1="406" x2="655.5" y2="422"/>
<rect x="654.0" y="407.5" width="3" height="9" fill="#fff"/>
<line x1="660.5" y1="409" x2="660.5" y2="422"/>
<line x1="658.0" y1="411.5" x2="663.0" y2="411.5"/>
<line x1="665.5" y1="398" x2="665.5" y2="411"/>
<rect x="664.0" y="400.5" width="3" height="5" fill="#fff"/>
<line x1="670.5" y1="396" x2="670.5" y2="407"/>
<rect x="669.0" y="396.5" width="3" height="8" fill="#fff"/>
<line x1="675.5" y1="388" x2="675.5" y2="397"/>
<rect x="674.0" y="393.5" width="3" height="2" fill="#fff"/>
<line x1="680.5" y1="391" x2="680.5" y2="403"/>
<rect x="679.0" y="395.5" width="3" height="5" fill="#000"/>
<line x1="685.5" y1="382" x2="685.5" y2="397"/>
<rect x="684.0" y="383.5" width="3" height="11" fill="#fff"/>
<line x1="690.5" y1="379" x2="690.5" y2="387"/>
<line x1="688.0" y1="382.5" x2="693.0" y2="382.5"/>
<line x1="694.5" y1="371" x2="694.5" y2="379"/>
<rect x="693.0" y="376.5" width="3" height="1" fill="#000"/>
<line x1="699.5" y1="369" x2="699.5" y2="378"/>
<rect x="698.0" y="370.5" width="3" height="6" fill="#fff"/>
<line x1="704.5" y1="361" x2="704.5" y2="370"/>
<line x1="702.0" y1="367.5" x2="707.0" y2="367.5"/>
<line x1="709.5" y1="364" x2="709.5" y2="370"/>
<line x1="707.0" y1="367.5" x2="712.0" y2="367.5"/>
<line x1="714.5" y1="364" x2="714.5" y2="380"/>
<rect x="713.0" y="365.5" width="3" height="12" fill="#000"/>
<line x1="719.5" y1="364" x2="719.5" y2="375"/>
<rect x="718.0" y="365.5" width="3" height="8" fill="#fff"/>
<line x1="724.5" y1="355" x2="724.5" y2="364"/>
<rect x="723.0" y="361.5" width="3" height="1" fill="#000"/>
<line x1="729.5" y1="361" x2="729.5" y2="369"/>
<rect x="728.0" y="365.5" width="3" height="2" fill="#fff"/>
<line x1="734.5" y1="357" x2="734.5" y2="367"/>
<rect x="733.0" y="361.5" width="3" height="2" fill="#fff"/>
<line x1="739.5" y1="351" x2="739.5" y2="362"/>
<rect x="738.0" y="352.5" width="3" height="5" fill="#fff"/>
<line x1="744.5" y1="349" x2="744.5" y2="358"/>
<rect x="743.0" y="351.5" width="3" height="5" fill="#000"/>
<line x1="749.5" y1="350" x2="749.5" y2="362"/>
<rect x="748.0" y="353.5" width="3" height="7" fill="#000"/>
<line x1="754.5" y1="365" x2="754.5" y2="378"/>
<rect x="753.0" y="365.5" width="3" height="11" fill="#fff"/>
<line x1="759.5" y1="350" x2="759.5" y2="376"/>
<rect x="758.0" y="351.5" width="3" height="8" fill="#fff"/>
<line x1="764.5" y1="351" x2="764.5" y2="360"/>
<line x1="762.0" y1="357.5" x2="767.0" y2="357.5"/>
<line x1="768.5" y1="334" x2="768.5" y2="353"/>
<rect x="767.0" y="334.5" width="3" height="18" fill="#fff"/>
<line x1="773.5" y1="332" x2="773.5" y2="338"/>
<line x1="771.0" y1="334.5" x2="776.0" y2="334.5"/>
<line x1="778.5" y1="330" x2="778.5" y2="341"/>
<rect x="777.0" y="334.5" width="3" height="2" fill="#000"/>
<line x1="783.5" y1="321" x2="783.5" y2="336"/>
<rect x="782.0" y="322.5" width="3" height="9" fill="#fff"/>
<line x1="788.5" y1="317" x2="788.5" y2="324"/>
<rect x="787.0" y="319.5" width="3" height="3" fill="#000"/>
<line x1="793.5" y1="315" x2="793.5" y2="331"/>
<rect x="792.0" y="317.5" width="3" height="12" fill="#000"/>
<line x1="798.5" y1="322" x2="798.5" y2="331"/>
<rect x="797.0" y="326.5" width="3" height="2" fill="#fff"/>
<line x1="803.5" y1="311" x2="803.5" y2="325"/>
<rect x="802.0" y="314.5" width="3" height="9" fill="#fff"/>
<line x1="808.5" y1="299" x2="808.5" y2="314"/>
<rect x="807.0" y="299.5" width="3" height="12" fill="#fff"/>
<line x1="813.5" y1="293" x2="813.5" y2="309"/>
<rect x="812.0" y="299.5" width="3" height="7" fill="#000"/>
<line x1="817.5" y1="301" x2="817.5" y2="312"/>
<rect x="816.0" y="306.5" width="3" height="4" fill="#000"/>
<line x1="822.5" y1="305" x2="822.5" y2="313"/>
<rect x="821.0" y="305.5" width="3" height="2" fill="#fff"/>
<line x1="827.5" y1="300" x2="827.5" y2="314"/>
<rect x="826.0" y="303.5" width="3" height="2" fill="#fff"/>
<line x1="832.5" y1="286" x2="832.5" y2="305"/>
<rect x="831.0" y="289.5" width="3" height="13" fill="#fff"/>
<line x1="837.5" y1="259" x2="837.5" y2="285"/>
<rect x="836.0" y="262.5" width="3" height="21" fill="#fff"/>
<line x1="842.5" y1="257" x2="842.5" y2="271"/>
<rect x="841.0" y="266.5" width="3" height="2" fill="#fff"/>
<line x1="847.5" y1="265" x2="847.5" y2="273"/>
<line x1="845.0" y1="268.5" x2="850.0" y2="268.5"/>
<line x1="852.5" y1="248" x2="852.5" y2="276"/>
<rect x="851.0" y="256.5" width="3" height="9" fill="#fff"/>
<line x1="857.5" y1="255" x2="857.5" y2="288"/>
<rect x="856.0" y="263.5" width="3" height="16" fill="#000"/>
<line x1="862.5" y1="242" x2="862.5" y2="268"/>
<rect x="861.0" y="252.5" width="3" height="10" fill="#fff"/>
<line x1="866.5" y1="238" x2="866.5" y2="255"/>
<rect x="865.0" y="240.5" width="3" height="6" fill="#000"/>
<line x1="871.5" y1="240" x2="871.5" y2="257"/>
<rect x="870.0" y="240.5" width="3" height="12" fill="#fff"/>
<line x1="876.5" y1="232" x2="876.5" y2="263"/>
<rect x="875.0" y="237.5" width="3" height="21" fill="#000"/>
<line x1="881.5" y1="253" x2="881.5" y2="281"/>
<rect x="880.0" y="254.5" width="3" height="21" fill="#000"/>
<line x1="886.5" y1="254" x2="886.5" y2="269"/>
<rect x="885.0" y="262.5" width="3" height="2" fill="#fff"/>
<line x1="890.5" y1="260" x2="890.5" y2="275"/>
<line x1="888.0" y1="271.5" x2="893.0" y2="271.5"/>
<line x1="895.5" y1="255" x2="895.5" y2="280"/>
<rect x="894.0" y="256.5" width="3" height="15" fill="#fff"/>
<line x1="900.5" y1="251" x2="900.5" y2="263"/>
<rect x="899.0" y="252.5" width="3" height="3" fill="#fff"/>
<line x1="905.5" y1="233" x2="905.5" y2="250"/>
<rect x="904.0" y="234.5" width="3" height="13" fill="#fff"/>
<line x1="910.5" y1="227" x2="910.5" y2="240"/>
<rect x="909.0" y="232.5" width="3" height="4" fill="#fff"/>
<line x1="915.5" y1="228" x2="915.5" y2="263"/>
<rect x="914.0" y="230.5" width="3" height="24" fill="#000"/>
<line x1="920.5" y1="250" x2="920.5" y2="264"/>
<rect x="919.0" y="252.5" width="3" height="7" fill="#fff"/>
<line x1="925.5" y1="243" x2="925.5" y2="253"/>
<rect x="924.0" y="247.5" width="3" height="4" fill="#000"/>
<line x1="930.5" y1="232" x2="930.5" y2="249"/>
<rect x="929.0" y="233.5" width="3" height="14" fill="#fff"/>
<line x1="935.5" y1="219" x2="935.5" y2="240"/>
<rect x="934.0" y="229.5" width="3" height="10" fill="#000"/>
<line x1="940.5" y1="236" x2="940.5" y2="255"/>
<rect x="939.0" y="237.5" width="3" height="8" fill="#fff"/>
<line x1="945.5" y1="242" x2="945.5" y2="257"/>
<rect x="944.0" y="244.5" width="3" height="9" fill="#000"/>
<line x1="950.5" y1="257" x2="950.5" y2="272"/>
<rect x="949.0" y="258.5" width="3" height="10" fill="#000"/>
<line x1="954.5" y1="255" x2="954.5" y2="266"/>
<rect x="953.0" y="259.5" width="3" height="2" fill="#fff"/>
<line x1="959.5" y1="258" x2="959.5" y2="271"/>
<line x1="957.0" y1="258.5" x2="962.0" y2="258.5"/>
<line x1="964.5" y1="277" x2="964.5" y2="317"/>
<rect x="963.0" y="277.5" width="3" height="39" fill="#000"/>
<line x1="969.5" y1="328" x2="969.5" y2="399"/>
<rect x="968.0" y="328.5" width="3" height="43" fill="#000"/>
<line x1="974.5" y1="374" x2="974.5" y2="452"/>
<rect x="973.0" y="412.5" width="3" height="27" fill="#fff"/>
<line x1="979.5" y1="383" x2="979.5" y2="424"/>
<rect x="978.0" y="393.5" width="3" height="2" fill="#000"/>
<line x1="984.5" y1="405" x2="984.5" y2="427"/>
<rect x="983.0" y="410.5" width="3" height="11" fill="#fff"/>
<line x1="989.5" y1="306" x2="989.5" y2="372"/>
<rect x="988.0" y="309.5" width="3" height="62" fill="#000"/>
<line x1="994.5" y1="357" x2="994.5" y2="387"/>
<rect x="993.0" y="361.5" width="3" height="11" fill="#000"/>
<line x1="999.5" y1="349" x2="999.5" y2="362"/>
<rect x="998.0" y="355.5" width="3" height="2" fill="#fff"/>
<line x1="1004.5" y1="331" x2="1004.5" y2="354"/>
<rect x="1003.0" y="333.5" width="3" height="19" fill="#fff"/>
<line x1="1009.5" y1="326" x2="1009.5" y2="344"/>
<rect x="1008.0" y="326.5" width="3" height="14" fill="#fff"/>
<line x1="1013.5" y1="325" x2="1013.5" y2="339"/>
<rect x="1012.0" y="326.5" width="3" height="7" fill="#000"/>
<line x1="1018.5" y1="315" x2="1018.5" y2="335"/>
<rect x="1017.0" y="323.5" width="3" height="9" fill="#fff"/>
<line x1="1023.5" y1="300" x2="1023.5" y2="316"/>
<rect x="1022.0" y="301.5" width="3" height="7" fill="#fff"/>
<line x1="1028.5" y1="295" x2="1028.5" y2="307"/>
<rect x="1027.0" y="300.5" width="3" height="5" fill="#fff"/>
<line x1="1033.5" y1="279" x2="1033.5" y2="296"/>
<rect x="1032.0" y="280.5" width="3" height="11" fill="#fff"/>
<line x1="1038.5" y1="268" x2="1038.5" y2="278"/>
<rect x="1037.0" y="275.5" width="3" height="1" fill="#000"/>
<line x1="1043.5" y1="262" x2="1043.5" y2="273"/>
<rect x="1042.0" y="263.5" width="3" height="8" fill="#fff"/>
<line x1="1048.5" y1="255" x2="1048.5" y2="292"/>
<rect x="1047.0" y="258.5" width="3" height="18" fill="#000"/>
<line x1="1053.5" y1="259" x2="1053.5" y2="270"/>
<rect x="1052.0" y="265.5" width="3" height="2" fill="#fff"/>
<line x1="1058.5" y1="256" x2="1058.5" y2="267"/>
<rect x="1057.0" y="257.5" width="3" height="3" fill="#fff"/>
<line x1="1063.5" y1="253" x2="1063.5" y2="278"/>
<rect x="1062.0" y="255.5" width="3" height="8" fill="#000"/>
<line x1="1068.5" y1="260" x2="1068.5" y2="279"/>
<rect x="1067.0" y="261.5" width="3" height="17" fill="#000"/>
<line x1="1072.5" y1="254" x2="1072.5" y2="275"/>
<rect x="1071.0" y="254.5" width="3" height="19" fill="#fff"/>
<line x1="1077.5" y1="245" x2="1077.5" y2="256"/>
<rect x="1076.0" y="248.5" width="3" height="4" fill="#fff"/>
<line x1="1082.5" y1="227" x2="1082.5" y2="249"/>
<rect x="1081.0" y="240.5" width="3" height="1" fill="#000"/>
<line x1="1087.5" y1="238" x2="1087.5" y2="246"/>
<line x1="1085.0" y1="241.5" x2="1090.0" y2="241.5"/>
<line x1="1092.5" y1="230" x2="1092.5" y2="244"/>
<rect x="1091.0" y="230.5" width="3" height="9" fill="#fff"/>
<line x1="1097.5" y1="226" x2="1097.5" y2="234"/>
<rect x="1096.0" y="227.5" width="3" height="6" fill="#fff"/>
<line x1="1102.5" y1="226" x2="1102.5" y2="234"/>
<line x1="1100.0" y1="226.5" x2="1105.0" y2="226.5"/>
<line x1="1107.5" y1="240" x2="1107.5" y2="252"/>
<rect x="1106.0" y="247.5" width="3" height="3" fill="#fff"/>
<line x1="1112.5" y1="234" x2="1112.5" y2="245"/>
<rect x="1111.0" y="235.5" width="3" height="8" fill="#fff"/>
<line x1="1117.5" y1="230" x2="1117.5" y2="239"/>
<rect x="1116.0" y="231.5" width="3" height="2" fill="#fff"/>
<line x1="1121.5" y1="232" x2="1121.5" y2="241"/>
<rect x="1120.0" y="233.5" width="3" height="1" fill="#000"/>
<line x1="1126.5" y1="233" x2="1126.5" y2="274"/>
<rect x="1125.0" y="237.5" width="3" height="28" fill="#000"/>
<line x1="1131.5" y1="245" x2="1131.5" y2="254"/>
<rect x="1130.0" y="245.5" width="3" height="6" fill="#000"/>
<line x1="1136.5" y1="246" x2="1136.5" y2="254"/>
<line x1="1134.0" y1="250.5" x2="1139.0" y2="250.5"/>
<line x1="1141.5" y1="241" x2="1141.5" y2="249"/>
<line x1="1139.0" y1="249.5" x2="1144.0" y2="249.5"/>
<line x1="1146.5" y1="238" x2="1146.5" y2="252"/>
<rect x="1145.0" y="245.5" width="3" height="2" fill="#000"/>
<line x1="1151.5" y1="237" x2="1151.5" y2="248"/>
<rect x="1150.0" y="237.5" width="3" height="10" fill="#fff"/>
<line x1="1156.5" y1="235" x2="1156.5" y2="247"/>
<line x1="1154.0" y1="241.5" x2="1159.0" y2="241.5"/>
<line x1="1161.5" y1="236" x2="1161.5" y2="252"/>
<rect x="1160.0" y="237.5" width="3" height="3" fill="#000"/>
<line x1="1166.5" y1="235" x2="1166.5" y2="252"/>
<rect x="1165.0" y="238.5" width="3" height="6" fill="#000"/>
<line x1="1170.5" y1="231" x2="1170.5" y2="248"/>
<rect x="1169.0" y="232.5" width="3" height="15" fill="#fff"/>
<line x1="1175.5" y1="217" x2="1175.5" y2="237"/>
<rect x="1174.0" y="218.5" width="3" height="15" fill="#fff"/>
<line x1="1180.5" y1="216" x2="1180.5" y2="223"/>
<rect x="1179.0" y="220.5" width="3" height="1" fill="#000"/>
<line x1="1185.5" y1="218" x2="1185.5" y2="244"/>
<rect x="1184.0" y="222.5" width="3" height="20" fill="#000"/>
<line x1="1190.5" y1="237" x2="1190.5" y2="247"/>
<rect x="1189.0" y="241.5" width="3" height="2" fill="#fff"/>
<line x1="1194.5" y1="240" x2="1194.5" y2="250"/>
<line x1="1192.0" y1="247.5" x2="1197.0" y2="247.5"/>
<line x1="1199.5" y1="249" x2="1199.5" y2="262"/>
<rect x="1198.0" y="253.5" width="3" height="6" fill="#fff"/>
<line x1="1204.5" y1="233" x2="1204.5" y2="253"/>
<rect x="1203.0" y="234.5" width="3" height="17" fill="#fff"/>
<line x1="1209.5" y1="239" x2="1209.5" y2="258"/>
<rect x="1208.0" y="240.5" width="3" height="16" fill="#000"/>
<line x1="1214.5" y1="250" x2="1214.5" y2="258"/>
<rect x="1213.0" y="253.5" width="3" height="2" fill="#fff"/>
<line x1="1219.5" y1="252" x2="1219.5" y2="266"/>
<rect x="1218.0" y="257.5" width="3" height="7" fill="#000"/>
<line x1="1224.5" y1="248" x2="1224.5" y2="263"/>
<rect x="1223.0" y="255.5" width="3" height="6" fill="#fff"/>
<line x1="1229.5" y1="254" x2="1229.5" y2="268"/>
<rect x="1228.0" y="259.5" width="3" height="7" fill="#000"/>
<line x1="1234.5" y1="241" x2="1234.5" y2="251"/>
<rect x="1233.0" y="245.5" width="3" height="2" fill="#fff"/>
<line x1="1239.5" y1="241" x2="1239.5" y2="257"/>
<rect x="1238.0" y="242.5" width="3" height="9" fill="#000"/>
<line x1="1244.5" y1="245" x2="1244.5" y2="258"/>
<rect x="1243.0" y="249.5" width="3" height="5" fill="#000"/>
<line x1="1249.5" y1="243" x2="1249.5" y2="256"/>
<rect x="1248.0" y="244.5" width="3" height="7" fill="#fff"/>
<line x1="1254.5" y1="241" x2="1254.5" y2="250"/>
<line x1="1252.0" y1="241.5" x2="1257.0" y2="241.5"/>
<line x1="1259.5" y1="241" x2="1259.5" y2="252"/>
<rect x="1258.0" y="242.5" width="3" height="6" fill="#000"/>
<line x1="1264.5" y1="242" x2="1264.5" y2="252"/>
<rect x="1263.0" y="243.5" width="3" height="2" fill="#fff"/>
<line x1="1269.5" y1="236" x2="1269.5" y2="248"/>
<rect x="1268.0" y="237.5" width="3" height="2" fill="#fff"/>
<line x1="1273.5" y1="232" x2="1273.5" y2="247"/>
<rect x="1272.0" y="238.5" width="3" height="6" fill="#000"/>
<line x1="1278.5" y1="233" x2="1278.5" y2="246"/>
<rect x="1277.0" y="234.5" width="3" height="10" fill="#fff"/>
<line x1="1283.5" y1="229" x2="1283.5" y2="238"/>
<line x1="1281.0" y1="234.5" x2="1286.0" y2="234.5"/>
<line x1="1288.5" y1="210" x2="1288.5" y2="231"/>
<rect x="1287.0" y="211.5" width="3" height="17" fill="#fff"/>
<line x1="1293.5" y1="206" x2="1293.5" y2="225"/>
<rect x="1292.0" y="209.5" width="3" height="14" fill="#000"/>
<line x1="1298.5" y1="225" x2="1298.5" y2="242"/>
<rect x="1297.0" y="227.5" width="3" height="9" fill="#000"/>
<line x1="1303.5" y1="232" x2="1303.5" y2="248"/>
<rect x="1302.0" y="235.5" width="3" height="11" fill="#fff"/>
<line x1="1308.5" y1="228" x2="1308.5" y2="245"/>
<rect x="1307.0" y="232.5" width="3" height="12" fill="#000"/>
<line x1="1313.5" y1="235" x2="1313.5" y2="245"/>
<rect x="1312.0" y="242.5" width="3" height="2" fill="#fff"/>
<line x1="1317.5" y1="236" x2="1317.5" y2="243"/>
<rect x="1316.0" y="236.5" width="3" height="2" fill="#fff"/>
<line x1="1322.5" y1="228" x2="1322.5" y2="236"/>
<rect x="1321.0" y="229.5" width="3" height="4" fill="#000"/>
<line x1="1327.5" y1="235" x2="1327.5" y2="243"/>
<rect x="1326.0" y="235.5" width="3" height="2" fill="#fff"/>
<line x1="1332.5" y1="234" x2="1332.5" y2="243"/>
<rect x="1331.0" y="236.5" width="3" height="2" fill="#fff"/>
<line x1="1337.5" y1="215" x2="1337.5" y2="230"/>
<rect x="1336.0" y="220.5" width="3" height="7" fill="#fff"/>
<line x1="1342.5" y1="203" x2="1342.5" y2="219"/>
<rect x="1341.0" y="209.5" width="3" height="2" fill="#000"/>
<line x1="1347.5" y1="209" x2="1347.5" y2="216"/>
<line x1="1345.0" y1="212.5" x2="1350.0" y2="212.5"/>
<line x1="1352.5" y1="197" x2="1352.5" y2="210"/>
<rect x="1351.0" y="206.5" width="3" height="1" fill="#000"/>
<line x1="1357.5" y1="184" x2="1357.5" y2="205"/>
<rect x="1356.0" y="188.5" width="3" height="15" fill="#fff"/>
<line x1="1362.5" y1="145" x2="1362.5" y2="194"/>
<rect x="1361.0" y="149.5" width="3" height="40" fill="#fff"/>
<line x1="1367.5" y1="138" x2="1367.5" y2="173"/>
<rect x="1366.0" y="140.5" width="3" height="31" fill="#000"/>
<line x1="1372.5" y1="178" x2="1372.5" y2="227"/>
<rect x="1371.0" y="179.5" width="3" height="42" fill="#000"/>
<line x1="1377.5" y1="193" x2="1377.5" y2="214"/>
<rect x="1376.0" y="196.5" width="3" height="15" fill="#fff"/>
<line x1="1382.5" y1="189" x2="1382.5" y2="206"/>
<rect x="1381.0" y="189.5" width="3" height="10" fill="#000"/>
<line x1="1387.5" y1="190" x2="1387.5" y2="196"/>
<rect x="1386.0" y="192.5" width="3" height="2" fill="#fff"/>
<line x1="1391.5" y1="177" x2="1391.5" y2="191"/>
<rect x="1390.0" y="178.5" width="3" height="11" fill="#fff"/>
<line x1="1396.5" y1="162" x2="1396.5" y2="177"/>
<rect x="1395.0" y="165.5" width="3" height="9" fill="#fff"/>
<line x1="1401.5" y1="158" x2="1401.5" y2="169"/>
<rect x="1400.0" y="161.5" width="3" height="4" fill="#000"/>
<line x1="1406.5" y1="158" x2="1406.5" y2="163"/>
<line x1="1404.0" y1="163.5" x2="1409.0" y2="163.5"/>
<line x1="1411.5" y1="148" x2="1411.5" y2="160"/>
<rect x="1410.0" y="149.5" width="3" height="9" fill="#fff"/>
<line x1="1415.5" y1="133" x2="1415.5" y2="149"/>
<rect x="1414.0" y="136.5" width="3" height="11" fill="#fff"/>
<line x1="1420.5" y1="124" x2="1420.5" y2="146"/>
<rect x="1419.0" y="125.5" width="3" height="12" fill="#000"/>
<line x1="1425.5" y1="116" x2="1425.5" y2="135"/>
<rect x="1424.0" y="118.5" width="3" height="15" fill="#fff"/>
<line x1="1430.5" y1="117" x2="1430.5" y2="126"/>
<rect x="1429.0" y="121.5" width="3" height="1" fill="#000"/>
<line x1="1435.5" y1="117" x2="1435.5" y2="129"/>
<rect x="1434.0" y="118.5" width="3" height="5" fill="#fff"/>
<line x1="1440.5" y1="103" x2="1440.5" y2="122"/>
<rect x="1439.0" y="112.5" width="3" height="8" fill="#fff"/>
<line x1="1445.5" y1="105" x2="1445.5" y2="117"/>
<rect x="1444.0" y="113.5" width="3" height="3" fill="#fff"/>
<line x1="1450.5" y1="125" x2="1450.5" y2="140"/>
<rect x="1449.0" y="125.5" width="3" height="6" fill="#000"/>
<line x1="1455.5" y1="129" x2="1455.5" y2="162"/>
<rect x="1454.0" y="132.5" width="3" height="23" fill="#000"/>
<line x1="1459.5" y1="148" x2="1459.5" y2="160"/>
<line x1="1457.0" y1="152.5" x2="1462.0" y2="152.5"/>
<line x1="1464.5" y1="157" x2="1464.5" y2="164"/>
<line x1="1462.0" y1="157.5" x2="1467.0" y2="157.5"/>
<line x1="1469.5" y1="148" x2="1469.5" y2="159"/>
<line x1="1467.0" y1="153.5" x2="1472.0" y2="153.5"/>
<line x1="1474.5" y1="151" x2="1474.5" y2="175"/>
<rect x="1473.0" y="153.5" width="3" height="14" fill="#000"/>
<line x1="1479.5" y1="163" x2="1479.5" y2="175"/>
<line x1="1477.0" y1="167.5" x2="1482.0" y2="167.5"/>
<line x1="1484.5" y1="157" x2="1484.5" y2="169"/>
<rect x="1483.0" y="160.5" width="3" height="4" fill="#fff"/>
<line x1="1489.5" y1="153" x2="1489.5" y2="177"/>
<rect x="1488.0" y="157.5" width="3" height="14" fill="#000"/>
<line x1="1494.5" y1="162" x2="1494.5" y2="169"/>
<rect x="1493.0" y="163.5" width="3" height="3" fill="#fff"/>
<line x1="1499.5" y1="149" x2="1499.5" y2="163"/>
<rect x="1498.0" y="149.5" width="3" height="11" fill="#fff"/>
<line x1="1504.5" y1="145" x2="1504.5" y2="157"/>
<line x1="1502.0" y1="148.5" x2="1507.0" y2="148.5"/>
<line x1="1508.5" y1="138" x2="1508.5" y2="149"/>
<rect x="1507.0" y="141.5" width="3" height="3" fill="#fff"/>
<line x1="1513.5" y1="137" x2="1513.5" y2="148"/>
<rect x="1512.0" y="138.5" width="3" height="2" fill="#000"/>
<line x1="1518.5" y1="115" x2="1518.5" y2="136"/>
<rect x="1517.0" y="117.5" width="3" height="17" fill="#fff"/>
<line x1="1523.5" y1="117" x2="1523.5" y2="141"/>
<rect x="1522.0" y="119.5" width="3" height="19" fill="#000"/>
<line x1="1528.5" y1="132" x2="1528.5" y2="156"/>
<rect x="1527.0" y="135.5" width="3" height="15" fill="#000"/>
<line x1="1533.5" y1="141" x2="1533.5" y2="155"/>
<rect x="1532.0" y="144.5" width="3" height="1" fill="#000"/>
<line x1="1538.5" y1="135" x2="1538.5" y2="145"/>
<rect x="1537.0" y="141.5" width="3" height="2" fill="#fff"/>
<line x1="1543.5" y1="141" x2="1543.5" y2="152"/>
<line x1="1541.0" y1="143.5" x2="1546.0" y2="143.5"/>
<line x1="1548.5" y1="141" x2="1548.5" y2="152"/>
<line x1="1546.0" y1="143.5" x2="1551.0" y2="143.5"/>
<line x1="1553.5" y1="143" x2="1553.5" y2="155"/>
<rect x="1552.0" y="147.5" width="3" height="3" fill="#000"/>
<line x1="1558.5" y1="146" x2="1558.5" y2="160"/>
<rect x="1557.0" y="147.5" width="3" height="10" fill="#fff"/>
<line x1="1563.5" y1="126" x2="1563.5" y2="144"/>
<rect x="1562.0" y="127.5" width="3" height="15" fill="#fff"/>
<line x1="1568.5" y1="122" x2="1568.5" y2="134"/>
<rect x="1567.0" y="124.5" width="3" height="2" fill="#000"/>
<line x1="1573.5" y1="116" x2="1573.5" y2="132"/>
<rect x="1572.0" y="117.5" width="3" height="10" fill="#fff"/>
<line x1="1577.5" y1="102" x2="1577.5" y2="127"/>
<rect x="1576.0" y="103.5" width="3" height="15" fill="#fff"/>
<line x1="1582.5" y1="96" x2="1582.5" y2="123"/>
<rect x="1581.0" y="99.5" width="3" height="22" fill="#000"/>
<line x1="1587.5" y1="112" x2="1587.5" y2="119"/>
<line x1="1585.0" y1="118.5" x2="1590.0" y2="118.5"/>
<line x1="1592.5" y1="116" x2="1592.5" y2="138"/>
<rect x="1591.0" y="117.5" width="3" height="15" fill="#000"/>
<line x1="1597.5" y1="121" x2="1597.5" y2="134"/>
<line x1="1595.0" y1="134.5" x2="1600.0" y2="134.5"/>
<line x1="1602.5" y1="124" x2="1602.5" y2="137"/>
<rect x="1601.0" y="129.5" width="3" height="6" fill="#fff"/>
<line x1="1607.5" y1="125" x2="1607.5" y2="136"/>
<rect x="1606.0" y="129.5" width="3" height="5" fill="#000"/>
<line x1="1612.5" y1="125" x2="1612.5" y2="149"/>
<rect x="1611.0" y="135.5" width="3" height="13" fill="#000"/>
<line x1="1617.5" y1="136" x2="1617.5" y2="146"/>
<rect x="1616.0" y="140.5" width="3" height="2" fill="#fff"/>
<line x1="1622.5" y1="141" x2="1622.5" y2="162"/>
<rect x="1621.0" y="141.5" width="3" height="12" fill="#fff"/>
<line x1="1627.5" y1="136" x2="1627.5" y2="157"/>
<rect x="1626.0" y="138.5" width="3" height="17" fill="#000"/>
<line x1="1631.5" y1="140" x2="1631.5" y2="158"/>
<rect x="1630.0" y="141.5" width="3" height="11" fill="#fff"/>
<line x1="1636.5" y1="150" x2="1636.5" y2="173"/>
<rect x="1635.0" y="162.5" width="3" height="2" fill="#fff"/>
<line x1="1641.5" y1="137" x2="1641.5" y2="151"/>
<rect x="1640.0" y="143.5" width="3" height="5" fill="#fff"/>
<line x1="1646.5" y1="130" x2="1646.5" y2="141"/>
<line x1="1644.0" y1="140.5" x2="1649.0" y2="140.5"/>
<line x1="1651.5" y1="137" x2="1651.5" y2="150"/>
<rect x="1650.0" y="138.5" width="3" height="6" fill="#000"/>
<line x1="1656.5" y1="139" x2="1656.5" y2="149"/>
<line x1="1654.0" y1="143.5" x2="1659.0" y2="143.5"/>
<line x1="1661.5" y1="140" x2="1661.5" y2="149"/>
<line x1="1659.0" y1="142.5" x2="1664.0" y2="142.5"/>
<line x1="1666.5" y1="122" x2="1666.5" y2="139"/>
<rect x="1665.0" y="126.5" width="3" height="11" fill="#fff"/>
<line x1="1671.5" y1="115" x2="1671.5" y2="128"/>
<rect x="1670.0" y="117.5" width="3" height="6" fill="#fff"/>
<line x1="1676.5" y1="105" x2="1676.5" y2="116"/>
<rect x="1675.0" y="107.5" width="3" height="7" fill="#fff"/>
<line x1="1680.5" y1="100" x2="1680.5" y2="114"/>
<rect x="1679.0" y="101.5" width="3" height="1" fill="#000"/>
<line x1="1685.5" y1="91" x2="1685.5" y2="144"/>
<rect x="1684.0" y="102.5" width="3" height="20" fill="#000"/>
<line x1="1690.5" y1="113" x2="1690.5" y2="129"/>
<rect x="1689.0" y="125.5" width="3" height="3" fill="#000"/>
<line x1="1695.5" y1="123" x2="1695.5" y2="141"/>
<rect x="1694.0" y="124.5" width="3" height="11" fill="#fff"/>
<line x1="1700.5" y1="117" x2="1700.5" y2="135"/>
<rect x="1699.0" y="118.5" width="3" height="15" fill="#fff"/>
<line x1="1704.5" y1="113" x2="1704.5" y2="125"/>
<rect x="1703.0" y="114.5" width="3" height="9" fill="#000"/>
<line x1="1709.5" y1="115" x2="1709.5" y2="129"/>
<rect x="1708.0" y="118.5" width="3" height="5" fill="#000"/>
<line x1="1714.5" y1="88" x2="1714.5" y2="111"/>
<rect x="1713.0" y="90.5" width="3" height="17" fill="#fff"/>
<line x1="1719.5" y1="73" x2="1719.5" y2="91"/>
<rect x="1718.0" y="77.5" width="3" height="8" fill="#fff"/>
<line x1="1724.5" y1="52" x2="1724.5" y2="71"/>
<rect x="1723.0" y="61.5" width="3" height="6" fill="#fff"/>
<line x1="1729.5" y1="48" x2="1729.5" y2="57"/>
<rect x="1728.0" y="54.5" width="3" height="2" fill="#fff"/>
<line x1="1734.5" y1="63" x2="1734.5" y2="90"/>
<rect x="1733.0" y="64.5" width="3" height="20" fill="#000"/>
<line x1="1739.5" y1="79" x2="1739.5" y2="100"/>
<rect x="1738.0" y="83.5" width="3" height="14" fill="#000"/>
<line x1="1744.5" y1="110" x2="1744.5" y2="133"/>
<rect x="1743.0" y="115.5" width="3" height="11" fill="#000"/>
<line x1="1749.5" y1="113" x2="1749.5" y2="141"/>
<rect x="1748.0" y="121.5" width="3" height="5" fill="#fff"/>
<line x1="1754.5" y1="104" x2="1754.5" y2="115"/>
<rect x="1753.0" y="107.5" width="3" height="3" fill="#000"/>
<line x1="1759.5" y1="113" x2="1759.5" y2="127"/>
<rect x="1758.0" y="117.5" width="3" height="4" fill="#fff"/>
<line x1="1764.5" y1="130" x2="1764.5" y2="153"/>
<rect x="1763.0" y="131.5" width="3" height="13" fill="#000"/>
<line x1="1769.5" y1="132" x2="1769.5" y2="157"/>
<rect x="1768.0" y="136.5" width="3" height="9" fill="#fff"/>
<line x1="1774.5" y1="121" x2="1774.5" y2="137"/>
<rect x="1773.0" y="122.5" width="3" height="8" fill="#fff"/>
<line x1="1778.5" y1="118" x2="1778.5" y2="127"/>
<rect x="1777.0" y="121.5" width="3" height="1" fill="#000"/>
<line x1="1783.5" y1="119" x2="1783.5" y2="129"/>
<rect x="1782.0" y="121.5" width="3" height="1" fill="#000"/>
<line x1="1788.5" y1="119" x2="1788.5" y2="131"/>
<rect x="1787.0" y="121.5" width="3" height="1" fill="#000"/>
<line x1="1793.5" y1="115" x2="1793.5" y2="126"/>
<line x1="1791.0" y1="118.5" x2="1796.0" y2="118.5"/>
<line x1="1798.5" y1="111" x2="1798.5" y2="123"/>
<rect x="1797.0" y="114.5" width="3" height="2" fill="#fff"/>
</g>
<line x1="35" y1="74.5" x2="1855" y2="74.5" stroke="#0000ff" stroke-width="1" shape-rendering="crispEdges"/>
<line x1="1382" y1="103.5" x2="1855" y2="103.5" stroke="#000" stroke-width="1" shape-rendering="crispEdges"/>
<line x1="1151" y1="177.5" x2="1666" y2="177.5" stroke="#000" stroke-width="1" shape-rendering="crispEdges"/>
<line x1="823" y1="223.5" x2="1338" y2="223.5" stroke="#ff0000" stroke-width="1" shape-rendering="crispEdges"/>
<line x1="813" y1="288.5" x2="1855" y2="288.5" stroke="#000" stroke-width="1" shape-rendering="crispEdges"/>
<line x1="445" y1="378.5" x2="735" y2="378.5" stroke="#000" stroke-width="1" shape-rendering="crispEdges"/>
<line x1="735" y1="377.5" x2="1399" y2="377.5" stroke="#000" stroke-width="1" shape-rendering="crispEdges"/>
<line x1="1399" y1="376.5" x2="1855" y2="376.5" stroke="#000" stroke-width="1" shape-rendering="crispEdges"/>
<line x1="35" y1="432.5" x2="1855" y2="432.5" stroke="#000" stroke-width="1" shape-rendering="crispEdges"/>
<line x1="136" y1="454.5" x2="1855" y2="454.5" stroke="#ff0000" stroke-width="1" stroke-dasharray="4 2" shape-rendering="crispEdges"/>
<line x1="35" y1="481.5" x2="441" y2="481.5" stroke="#000" stroke-width="1" shape-rendering="crispEdges"/>
<line x1="441" y1="482.5" x2="1221" y2="482.5" stroke="#000" stroke-width="1" shape-rendering="crispEdges"/>
<line x1="1221" y1="483.5" x2="1855" y2="483.5" stroke="#000" stroke-width="1" shape-rendering="crispEdges"/>
<line x1="35" y1="532.5" x2="1855" y2="532.5" stroke="#000" stroke-width="1" shape-rendering="crispEdges"/>
<line x1="35" y1="589.5" x2="1855" y2="589.5" stroke="#000" stroke-width="1" shape-rendering="crispEdges"/>
<line x1="35" y1="628.5" x2="1855" y2="628.5" stroke="#0000ff" stroke-width="1" shape-rendering="crispEdges"/>
<line x1="35" y1="833.5" x2="1855" y2="833.5" stroke="#0000ff" stroke-width="1" shape-rendering="crispEdges"/>
<line x1="35" y1="494.5" x2="38" y2="494.5" stroke="#ff0000" stroke-width="1" shape-rendering="crispEdges"/>
<line x1="35" y1="503.5" x2="175.1" y2="474.1" stroke="#009900" stroke-width="1" shape-rendering="crispEdges"/>
<line x1="146" y1="540" x2="508.6" y2="387" stroke="#009900" stroke-width="1" shape-rendering="crispEdges"/>
<line x1="543.2" y1="479.6" x2="998.8" y2="260.7" stroke="#009900" stroke-width="1" shape-rendering="crispEdges"/>
<line x1="141.2" y1="542.2" x2="636.3" y2="464.7" stroke="#000" stroke-width="1" shape-rendering="crispEdges"/>
<line x1="35" y1="556.4" x2="1856" y2="282.7" stroke="#0000ff" stroke-width="1" shape-rendering="crispEdges"/>
<line x1="543.2" y1="479.6" x2="1019" y2="296.2" stroke="#000" stroke-width="1" shape-rendering="crispEdges"/>
<line x1="186" y1="589" x2="465" y2="563" stroke="#000" stroke-width="1" shape-rendering="crispEdges"/>
<line x1="464" y1="369" x2="697.5" y2="410.6" stroke="#ff0000" stroke-width="1" stroke-dasharray="18.4 6" shape-rendering="crispEdges"/>
<line x1="934" y1="218" x2="1028.6" y2="337.6" stroke="#ff0000" stroke-width="1" shape-rendering="crispEdges"/>
<line x1="1058.2" y1="279.5" x2="1335" y2="259.2" stroke="#000" stroke-width="1" shape-rendering="crispEdges"/>
<line x1="1230.1" y1="267" x2="1838" y2="105.7" stroke="#000" stroke-width="1" shape-rendering="crispEdges"/>
<line x1="1175.1" y1="214.2" x2="1274.5" y2="257.6" stroke="#4b0082" stroke-width="1" stroke-dasharray="20 6.4" shape-rendering="crispEdges"/>
<line x1="1463.7" y1="182.6" x2="1635.1" y2="140.7" stroke="#0000ff" stroke-width="1" stroke-dasharray="4 4" shape-rendering="crispEdges"/>
<polyline fill="none" stroke="#ff0000" stroke-width="1" shape-rendering="crispEdges" points="35.0,702.1 38.5,698.2 43.5,725.7 48.5,713.6 53.5,726.6 58.5,706.2 62.5,694.7 67.5,675.5 72.5,693.4 77.5,680.5 82.5,663.6 87.5,652.4 92.5,698.6 97.5,654.7 102.5,644.5 107.5,675.1 111.5,711.5 116.5,706.5 121.5,754.5 126.5,669.3 131.5,703.5 135.5,781.4 140.5,816.9 145.5,821.7 150.5,829.3 155.5,772.6 160.5,775.8 165.5,770.8 170.5,756.6 175.5,759.3 180.5,738.0 185.5,679.6 190.5,671.6 195.5,691.6 200.5,681.4 204.5,676.9 209.5,653.5 214.5,673.0 219.5,657.9 224.5,656.2 229.5,643.2 234.5,632.9 239.5,631.3 244.5,726.2 249.5,723.9 253.5,692.0 258.5,769.0 263.5,723.0 268.5,748.6 273.5,742.5 278.5,712.4 283.5,700.0 288.5,717.7 293.5,697.3 298.5,694.7 303.5,670.7 308.5,657.4 313.5,747.0 318.5,725.7 323.5,725.2 327.5,665.4 332.5,672.5 337.5,712.4 342.5,782.9 347.5,791.2 352.5,803.1 357.5,735.3 362.5,713.3 367.5,726.6 372.5,712.4 376.5,685.8 381.5,668.0 386.5,656.5 391.5,654.2 396.5,670.7 400.5,649.4 405.5,640.6 410.5,689.3 415.5,730.1 420.5,768.1 425.5,771.7 430.5,774.3 435.5,712.4 440.5,682.2 445.5,716.8 449.5,725.7 454.5,666.3 459.5,655.6 464.5,646.4 469.5,737.2 474.5,793.0 479.5,798.3 484.5,756.6 489.5,789.4 494.5,777.9 498.5,730.9 503.5,733.5 508.5,791.2 513.5,801.0 518.5,807.2 523.5,816.0 528.5,824.9 533.5,831.1 538.5,836.1 543.5,836.4 548.5,804.5 553.5,767.3 558.5,758.4 563.5,703.5 568.5,671.6 572.5,646.8 577.5,641.4 582.5,641.4 587.5,671.2 592.5,654.7 597.5,639.3 602.5,634.3 607.5,630.8 612.5,728.4 617.5,706.2 621.5,744.2 626.5,756.6 631.5,769.0 636.5,725.2 641.5,728.4 645.5,743.3 650.5,744.2 655.5,672.5 660.5,697.3 665.5,664.5 670.5,656.5 675.5,648.5 680.5,715.1 685.5,664.5 690.5,662.4 694.5,653.9 699.5,641.4 704.5,637.0 709.5,646.8 714.5,725.2 719.5,681.4 724.5,675.7 729.5,695.5 734.5,685.8 739.5,659.5 744.5,698.2 749.5,724.8 754.5,744.7 759.5,687.9 764.5,715.6 768.5,664.5 773.5,664.5 778.5,673.4 783.5,649.4 788.5,650.7 793.5,699.4 798.5,689.3 803.5,660.1 808.5,640.6 813.5,673.4 817.5,699.4 822.5,684.0 827.5,677.8 832.5,649.4 837.5,627.6 842.5,641.4 847.5,660.6 852.5,644.1 857.5,735.5 862.5,684.9 866.5,678.7 871.5,672.1 876.5,722.2 881.5,762.8 886.5,731.9 890.5,749.5 895.5,718.6 900.5,706.2 905.5,677.5 910.5,675.1 915.5,747.7 920.5,738.0 925.5,734.4 930.5,691.1 935.5,714.2 940.5,708.0 945.5,758.4 950.5,791.2 954.5,757.5 959.5,759.3 964.5,831.1 969.5,847.1 974.5,855.1 979.5,824.0 984.5,830.8 989.5,764.6 994.5,766.4 999.5,737.2 1004.5,710.6 1009.5,702.1 1013.5,715.6 1018.5,698.6 1023.5,673.4 1028.5,669.8 1033.5,653.9 1038.5,648.5 1043.5,640.6 1048.5,688.1 1053.5,669.8 1058.5,661.3 1063.5,688.4 1068.5,739.5 1072.5,692.0 1077.5,681.4 1082.5,674.3 1087.5,673.0 1092.5,656.5 1097.5,651.2 1102.5,650.8 1107.5,745.7 1112.5,712.4 1117.5,701.4 1121.5,721.3 1126.5,795.6 1131.5,752.2 1136.5,746.3 1141.5,747.2 1146.5,740.6 1151.5,704.4 1156.5,711.5 1161.5,722.2 1166.5,745.7 1170.5,686.7 1175.5,660.4 1180.5,669.8 1185.5,763.3 1190.5,758.0 1194.5,770.8 1199.5,791.7 1204.5,715.9 1209.5,774.3 1214.5,762.8 1219.5,787.6 1224.5,751.3 1229.5,773.5 1234.5,720.4 1239.5,735.5 1244.5,747.5 1249.5,715.1 1254.5,707.1 1259.5,739.4 1264.5,715.1 1269.5,699.1 1273.5,737.6 1278.5,699.4 1283.5,700.0 1288.5,656.2 1293.5,705.3 1298.5,746.5 1303.5,740.8 1308.5,768.1 1313.5,761.9 1317.5,731.9 1322.5,727.1 1327.5,735.1 1332.5,736.3 1337.5,668.0 1342.5,653.3 1347.5,662.4 1352.5,652.1 1357.5,629.4 1362.5,614.5 1367.5,682.2 1372.5,768.1 1377.5,730.1 1382.5,736.9 1387.5,727.5 1391.5,705.3 1396.5,688.1 1401.5,692.9 1406.5,687.6 1411.5,668.0 1415.5,652.4 1420.5,666.3 1425.5,645.3 1430.5,668.4 1435.5,660.1 1440.5,653.3 1445.5,660.1 1450.5,739.0 1455.5,791.2 1459.5,779.3 1464.5,789.4 1469.5,772.6 1474.5,802.7 1479.5,797.4 1484.5,760.5 1489.5,792.1 1494.5,747.7 1499.5,710.6 1504.5,703.5 1508.5,689.3 1513.5,689.0 1518.5,646.4 1523.5,728.4 1528.5,757.0 1533.5,740.8 1538.5,729.2 1543.5,739.0 1548.5,740.4 1553.5,763.3 1558.5,744.3 1563.5,677.5 1568.5,680.5 1573.5,661.0 1577.5,643.2 1582.5,724.5 1587.5,712.0 1592.5,756.6 1597.5,761.6 1602.5,741.5 1607.5,760.2 1612.5,794.7 1617.5,757.5 1622.5,762.3 1627.5,798.3 1631.5,742.1 1636.5,786.8 1641.5,733.7 1646.5,725.7 1651.5,742.5 1656.5,741.7 1661.5,734.6 1666.5,684.0 1671.5,668.9 1676.5,655.6 1680.5,646.8 1685.5,735.5 1690.5,748.6 1695.5,731.0 1700.5,715.6 1704.5,737.5 1709.5,740.6 1714.5,660.1 1719.5,646.8 1724.5,635.2 1729.5,632.6 1734.5,730.1 1739.5,754.8 1744.5,792.1 1749.5,773.5 1754.5,755.2 1759.5,763.7 1764.5,805.4 1769.5,772.6 1774.5,744.2 1778.5,747.2 1783.5,742.1 1788.5,747.7 1793.5,730.1 1798.5,712.7"/>
<g stroke="#000" stroke-width="1" shape-rendering="crispEdges">
<line x1="35.5" y1="0" x2="35.5" y2="880"/>
<line x1="1855.5" y1="0" x2="1855.5" y2="881"/>
<line x1="30" y1="584.5" x2="35" y2="584.5"/><line x1="1856" y1="584.5" x2="1861" y2="584.5"/>
<line x1="30" y1="566.5" x2="35" y2="566.5"/><line x1="1856" y1="566.5" x2="1861" y2="566.5"/>
<line x1="30" y1="549.5" x2="35" y2="549.5"/><line x1="1856" y1="549.5" x2="1861" y2="549.5"/>
<line x1="30" y1="532.5" x2="35" y2="532.5"/><line x1="1856" y1="532.5" x2="1861" y2="532.5"/>
<line x1="30" y1="515.5" x2="35" y2="515.5"/><line x1="1856" y1="515.5" x2="1861" y2="515.5"/>
<line x1="30" y1="498.5" x2="35" y2="498.5"/><line x1="1856" y1="498.5" x2="1861" y2="498.5"/>
<line x1="30" y1="480.5" x2="35" y2="480.5"/><line x1="1856" y1="480.5" x2="1861" y2="480.5"/>
<line x1="30" y1="463.5" x2="35" y2="463.5"/><line x1="1856" y1="463.5" x2="1861" y2="463.5"/>
<line x1="30" y1="446.5" x2="35" y2="446.5"/><line x1="1856" y1="446.5" x2="1861" y2="446.5"/>
<line x1="30" y1="429.5" x2="35" y2="429.5"/><line x1="1856" y1="429.5" x2="1861" y2="429.5"/>
<line x1="30" y1="412.5" x2="35" y2="412.5"/><line x1="1856" y1="412.5" x2="1861" y2="412.5"/>
<line x1="30" y1="394.5" x2="35" y2="394.5"/><line x1="1856" y1="394.5" x2="1861" y2="394.5"/>
<line x1="30" y1="377.5" x2="35" y2="377.5"/><line x1="1856" y1="377.5" x2="1861" y2="377.5"/>
<line x1="30" y1="360.5" x2="35" y2="360.5"/><line x1="1856" y1="360.5" x2="1861" y2="360.5"/>
<line x1="30" y1="343.5" x2="35" y2="343.5"/><line x1="1856" y1="343.5" x2="1861" y2="343.5"/>
<line x1="30" y1="325.5" x2="35" y2="325.5"/><line x1="1856" y1="325.5" x2="1861" y2="325.5"/>
<line x1="30" y1="308.5" x2="35" y2="308.5"/><line x1="1856" y1="308.5" x2="1861" y2="308.5"/>
<line x1="30" y1="291.5" x2="35" y2="291.5"/><line x1="1856" y1="291.5" x2="1861" y2="291.5"/>
<line x1="30" y1="274.5" x2="35" y2="274.5"/><line x1="1856" y1="274.5" x2="1861" y2="274.5"/>
<line x1="30" y1="257.5" x2="35" y2="257.5"/><line x1="1856" y1="257.5" x2="1861" y2="257.5"/>
<line x1="30" y1="239.5" x2="35" y2="239.5"/><line x1="1856" y1="239.5" x2="1861" y2="239.5"/>
<line x1="30" y1="222.5" x2="35" y2="222.5"/><line x1="1856" y1="222.5" x2="1861" y2="222.5"/>
<line x1="30" y1="205.5" x2="35" y2="205.5"/><line x1="1856" y1="205.5" x2="1861" y2="205.5"/>
<line x1="30" y1="188.5" x2="35" y2="188.5"/><line x1="1856" y1="188.5" x2="1861" y2="188.5"/>
<line x1="30" y1="170.5" x2="35" y2="170.5"/><line x1="1856" y1="170.5" x2="1861" y2="170.5"/>
<line x1="30" y1="153.5" x2="35" y2="153.5"/><line x1="1856" y1="153.5" x2="1861" y2="153.5"/>
<line x1="30" y1="136.5" x2="35" y2="136.5"/><line x1="1856" y1="136.5" x2="1861" y2="136.5"/>
<line x1="30" y1="119.5" x2="35" y2="119.5"/><line x1="1856" y1="119.5" x2="1861" y2="119.5"/>
<line x1="30" y1="102.5" x2="35" y2="102.5"/><line x1="1856" y1="102.5" x2="1861" y2="102.5"/>
<line x1="30" y1="84.5" x2="35" y2="84.5"/><line x1="1856" y1="84.5" x2="1861" y2="84.5"/>
<line x1="30" y1="67.5" x2="35" y2="67.5"/><line x1="1856" y1="67.5" x2="1861" y2="67.5"/>
<line x1="30" y1="50.5" x2="35" y2="50.5"/><line x1="1856" y1="50.5" x2="1861" y2="50.5"/>
<line x1="30" y1="33.5" x2="35" y2="33.5"/><line x1="1856" y1="33.5" x2="1861" y2="33.5"/>
<line x1="30" y1="15.5" x2="35" y2="15.5"/><line x1="1856" y1="15.5" x2="1861" y2="15.5"/>
<line x1="33" y1="575.5" x2="35" y2="575.5"/><line x1="1856" y1="575.5" x2="1858" y2="575.5"/>
<line x1="33" y1="558.5" x2="35" y2="558.5"/><line x1="1856" y1="558.5" x2="1858" y2="558.5"/>
<line x1="33" y1="541.5" x2="35" y2="541.5"/><line x1="1856" y1="541.5" x2="1858" y2="541.5"/>
<line x1="33" y1="523.5" x2="35" y2="523.5"/><line x1="1856" y1="523.5" x2="1858" y2="523.5"/>
<line x1="33" y1="506.5" x2="35" y2="506.5"/><line x1="1856" y1="506.5" x2="1858" y2="506.5"/>
<line x1="33" y1="489.5" x2="35" y2="489.5"/><line x1="1856" y1="489.5" x2="1858" y2="489.5"/>
<line x1="33" y1="472.5" x2="35" y2="472.5"/><line x1="1856" y1="472.5" x2="1858" y2="472.5"/>
<line x1="33" y1="455.5" x2="35" y2="455.5"/><line x1="1856" y1="455.5" x2="1858" y2="455.5"/>
<line x1="33" y1="437.5" x2="35" y2="437.5"/><line x1="1856" y1="437.5" x2="1858" y2="437.5"/>
<line x1="33" y1="420.5" x2="35" y2="420.5"/><line x1="1856" y1="420.5" x2="1858" y2="420.5"/>
<line x1="33" y1="403.5" x2="35" y2="403.5"/><line x1="1856" y1="403.5" x2="1858" y2="403.5"/>
<line x1="33" y1="386.5" x2="35" y2="386.5"/><line x1="1856" y1="386.5" x2="1858" y2="386.5"/>
<line x1="33" y1="368.5" x2="35" y2="368.5"/><line x1="1856" y1="368.5" x2="1858" y2="368.5"/>
<line x1="33" y1="351.5" x2="35" y2="351.5"/><line x1="1856" y1="351.5" x2="1858" y2="351.5"/>
<line x1="33" y1="334.5" x2="35" y2="334.5"/><line x1="1856" y1="334.5" x2="1858" y2="334.5"/>
<line x1="33" y1="317.5" x2="35" y2="317.5"/><line x1="1856" y1="317.5" x2="1858" y2="317.5"/>
<line x1="33" y1="300.5" x2="35" y2="300.5"/><line x1="1856" y1="300.5" x2="1858" y2="300.5"/>
<line x1="33" y1="282.5" x2="35" y2="282.5"/><line x1="1856" y1="282.5" x2="1858" y2="282.5"/>
<line x1="33" y1="265.5" x2="35" y2="265.5"/><line x1="1856" y1="265.5" x2="1858" y2="265.5"/>
<line x1="33" y1="248.5" x2="35" y2="248.5"/><line x1="1856" y1="248.5" x2="1858" y2="248.5"/>
<line x1="33" y1="231.5" x2="35" y2="231.5"/><line x1="1856" y1="231.5" x2="1858" y2="231.5"/>
<line x1="33" y1="213.5" x2="35" y2="213.5"/><line x1="1856" y1="213.5" x2="1858" y2="213.5"/>
<line x1="33" y1="196.5" x2="35" y2="196.5"/><line x1="1856" y1="196.5" x2="1858" y2="196.5"/>
<line x1="33" y1="179.5" x2="35" y2="179.5"/><line x1="1856" y1="179.5" x2="1858" y2="179.5"/>
<line x1="33" y1="162.5" x2="35" y2="162.5"/><line x1="1856" y1="162.5" x2="1858" y2="162.5"/>
<line x1="33" y1="145.5" x2="35" y2="145.5"/><line x1="1856" y1="145.5" x2="1858" y2="145.5"/>
<line x1="33" y1="127.5" x2="35" y2="127.5"/><line x1="1856" y1="127.5" x2="1858" y2="127.5"/>
<line x1="33" y1="110.5" x2="35" y2="110.5"/><line x1="1856" y1="110.5" x2="1858" y2="110.5"/>
<line x1="33" y1="93.5" x2="35" y2="93.5"/><line x1="1856" y1="93.5" x2="1858" y2="93.5"/>
<line x1="33" y1="76.5" x2="35" y2="76.5"/><line x1="1856" y1="76.5" x2="1858" y2="76.5"/>
<line x1="33" y1="59.5" x2="35" y2="59.5"/><line x1="1856" y1="59.5" x2="1858" y2="59.5"/>
<line x1="33" y1="41.5" x2="35" y2="41.5"/><line x1="1856" y1="41.5" x2="1858" y2="41.5"/>
<line x1="33" y1="24.5" x2="35" y2="24.5"/><line x1="1856" y1="24.5" x2="1858" y2="24.5"/>
<line x1="30" y1="874.5" x2="35" y2="874.5"/>
<line x1="33" y1="871.5" x2="35" y2="871.5"/>
<line x1="33" y1="869.5" x2="35" y2="869.5"/>
<line x1="33" y1="866.5" x2="35" y2="866.5"/>
<line x1="33" y1="863.5" x2="35" y2="863.5"/>
<line x1="30" y1="860.5" x2="35" y2="860.5"/>
<line x1="33" y1="858.5" x2="35" y2="858.5"/>
<line x1="33" y1="855.5" x2="35" y2="855.5"/>
<line x1="33" y1="852.5" x2="35" y2="852.5"/>
<line x1="33" y1="849.5" x2="35" y2="849.5"/>
<line x1="30" y1="847.5" x2="35" y2="847.5"/>
<line x1="33" y1="844.5" x2="35" y2="844.5"/>
<line x1="33" y1="841.5" x2="35" y2="841.5"/>
<line x1="33" y1="839.5" x2="35" y2="839.5"/>
<line x1="33" y1="836.5" x2="35" y2="836.5"/>
<line x1="30" y1="833.5" x2="35" y2="833.5"/>
<line x1="33" y1="830.5" x2="35" y2="830.5"/>
<line x1="33" y1="828.5" x2="35" y2="828.5"/>
<line x1="33" y1="825.5" x2="35" y2="825.5"/>
<line x1="33" y1="822.5" x2="35" y2="822.5"/>
<line x1="30" y1="819.5" x2="35" y2="819.5"/>
<line x1="33" y1="817.5" x2="35" y2="817.5"/>
<line x1="33" y1="814.5" x2="35" y2="814.5"/>
<line x1="33" y1="811.5" x2="35" y2="811.5"/>
<line x1="33" y1="808.5" x2="35" y2="808.5"/>
<line x1="30" y1="806.5" x2="35" y2="806.5"/>
<line x1="33" y1="803.5" x2="35" y2="803.5"/>
<line x1="33" y1="800.5" x2="35" y2="800.5"/>
<line x1="33" y1="798.5" x2="35" y2="798.5"/>
<line x1="33" y1="795.5" x2="35" y2="795.5"/>
<line x1="30" y1="792.5" x2="35" y2="792.5"/>
<line x1="33" y1="789.5" x2="35" y2="789.5"/>
<line x1="33" y1="787.5" x2="35" y2="787.5"/>
<line x1="33" y1="784.5" x2="35" y2="784.5"/>
<line x1="33" y1="781.5" x2="35" y2="781.5"/>
<line x1="30" y1="778.5" x2="35" y2="778.5"/>
<line x1="33" y1="776.5" x2="35" y2="776.5"/>
<line x1="33" y1="773.5" x2="35" y2="773.5"/>
<line x1="33" y1="770.5" x2="35" y2="770.5"/>
<line x1="33" y1="767.5" x2="35" y2="767.5"/>
<line x1="30" y1="765.5" x2="35" y2="765.5"/>
<line x1="33" y1="762.5" x2="35" y2="762.5"/>
<line x1="33" y1="759.5" x2="35" y2="759.5"/>
<line x1="33" y1="756.5" x2="35" y2="756.5"/>
<line x1="33" y1="754.5" x2="35" y2="754.5"/>
<line x1="30" y1="751.5" x2="35" y2="751.5"/>
<line x1="33" y1="748.5" x2="35" y2="748.5"/>
<line x1="33" y1="746.5" x2="35" y2="746.5"/>
<line x1="33" y1="743.5" x2="35" y2="743.5"/>
<line x1="33" y1="740.5" x2="35" y2="740.5"/>
<line x1="30" y1="737.5" x2="35" y2="737.5"/>
<line x1="33" y1="735.5" x2="35" y2="735.5"/>
<line x1="33" y1="732.5" x2="35" y2="732.5"/>
<line x1="33" y1="729.5" x2="35" y2="729.5"/>
<line x1="33" y1="726.5" x2="35" y2="726.5"/>
<line x1="30" y1="724.5" x2="35" y2="724.5"/>
<line x1="33" y1="721.5" x2="35" y2="721.5"/>
<line x1="33" y1="718.5" x2="35" y2="718.5"/>
<line x1="33" y1="715.5" x2="35" y2="715.5"/>
<line x1="33" y1="713.5" x2="35" y2="713.5"/>
<line x1="30" y1="710.5" x2="35" y2="710.5"/>
<line x1="33" y1="707.5" x2="35" y2="707.5"/>
<line x1="33" y1="705.5" x2="35" y2="705.5"/>
<line x1="33" y1="702.5" x2="35" y2="702.5"/>
<line x1="33" y1="699.5" x2="35" y2="699.5"/>
<line x1="30" y1="696.5" x2="35" y2="696.5"/>
<line x1="33" y1="694.5" x2="35" y2="694.5"/>
<line x1="33" y1="691.5" x2="35" y2="691.5"/>
<line x1="33" y1="688.5" x2="35" y2="688.5"/>
<line x1="33" y1="685.5" x2="35" y2="685.5"/>
<line x1="30" y1="683.5" x2="35" y2="683.5"/>
<line x1="33" y1="680.5" x2="35" y2="680.5"/>
<line x1="33" y1="677.5" x2="35" y2="677.5"/>
<line x1="33" y1="674.5" x2="35" y2="674.5"/>
<line x1="33" y1="672.5" x2="35" y2="672.5"/>
<line x1="30" y1="669.5" x2="35" y2="669.5"/>
<line x1="33" y1="666.5" x2="35" y2="666.5"/>
<line x1="33" y1="664.5" x2="35" y2="664.5"/>
<line x1="33" y1="661.5" x2="35" y2="661.5"/>
<line x1="33" y1="658.5" x2="35" y2="658.5"/>
<line x1="30" y1="655.5" x2="35" y2="655.5"/>
<line x1="33" y1="653.5" x2="35" y2="653.5"/>
<line x1="33" y1="650.5" x2="35" y2="650.5"/>
<line x1="33" y1="647.5" x2="35" y2="647.5"/>
<line x1="33" y1="644.5" x2="35" y2="644.5"/>
<line x1="30" y1="642.5" x2="35" y2="642.5"/>
<line x1="33" y1="639.5" x2="35" y2="639.5"/>
<line x1="33" y1="636.5" x2="35" y2="636.5"/>
<line x1="33" y1="633.5" x2="35" y2="633.5"/>
<line x1="33" y1="631.5" x2="35" y2="631.5"/>
<line x1="30" y1="628.5" x2="35" y2="628.5"/>
<line x1="33" y1="625.5" x2="35" y2="625.5"/>
<line x1="33" y1="622.5" x2="35" y2="622.5"/>
<line x1="33" y1="620.5" x2="35" y2="620.5"/>
<line x1="33" y1="617.5" x2="35" y2="617.5"/>
<line x1="30" y1="614.5" x2="35" y2="614.5"/>
<line x1="33" y1="612.5" x2="35" y2="612.5"/>
<line x1="33" y1="609.5" x2="35" y2="609.5"/>
<line x1="33" y1="606.5" x2="35" y2="606.5"/>
<line x1="33" y1="603.5" x2="35" y2="603.5"/>
<line x1="30" y1="601.5" x2="35" y2="601.5"/>
<line x1="33" y1="598.5" x2="35" y2="598.5"/>
<line x1="33" y1="595.5" x2="35" y2="595.5"/>
<line x1="33" y1="592.5" x2="35" y2="592.5"/>
<line x1="33" y1="590.5" x2="35" y2="590.5"/>
<line x1="1856" y1="870.5" x2="1861" y2="870.5"/>
<line x1="1856" y1="859.5" x2="1861" y2="859.5"/>
<line x1="1856" y1="849.5" x2="1861" y2="849.5"/>
<line x1="1856" y1="839.5" x2="1861" y2="839.5"/>
<line x1="1856" y1="829.5" x2="1861" y2="829.5"/>
<line x1="1856" y1="818.5" x2="1861" y2="818.5"/>
<line x1="1856" y1="808.5" x2="1861" y2="808.5"/>
<line x1="1856" y1="798.5" x2="1861" y2="798.5"/>
<line x1="1856" y1="788.5" x2="1861" y2="788.5"/>
<line x1="1856" y1="778.5" x2="1861" y2="778.5"/>
<line x1="1856" y1="767.5" x2="1861" y2="767.5"/>
<line x1="1856" y1="757.5" x2="1861" y2="757.5"/>
<line x1="1856" y1="747.5" x2="1861" y2="747.5"/>
<line x1="1856" y1="737.5" x2="1861" y2="737.5"/>
<line x1="1856" y1="727.5" x2="1861" y2="727.5"/>
<line x1="1856" y1="716.5" x2="1861" y2="716.5"/>
<line x1="1856" y1="706.5" x2="1861" y2="706.5"/>
<line x1="1856" y1="696.5" x2="1861" y2="696.5"/>
<line x1="1856" y1="686.5" x2="1861" y2="686.5"/>
<line x1="1856" y1="675.5" x2="1861" y2="675.5"/>
<line x1="1856" y1="665.5" x2="1861" y2="665.5"/>
<line x1="1856" y1="655.5" x2="1861" y2="655.5"/>
<line x1="1856" y1="645.5" x2="1861" y2="645.5"/>
<line x1="1856" y1="635.5" x2="1861" y2="635.5"/>
<line x1="1856" y1="624.5" x2="1861" y2="624.5"/>
<line x1="1856" y1="614.5" x2="1861" y2="614.5"/>
<line x1="1856" y1="604.5" x2="1861" y2="604.5"/>
<line x1="1856" y1="594.5" x2="1861" y2="594.5"/>
<line x1="1856" y1="875.5" x2="1858" y2="875.5"/>
<line x1="1856" y1="864.5" x2="1858" y2="864.5"/>
<line x1="1856" y1="854.5" x2="1858" y2="854.5"/>
<line x1="1856" y1="844.5" x2="1858" y2="844.5"/>
<line x1="1856" y1="834.5" x2="1858" y2="834.5"/>
<line x1="1856" y1="824.5" x2="1858" y2="824.5"/>
<line x1="1856" y1="813.5" x2="1858" y2="813.5"/>
<line x1="1856" y1="803.5" x2="1858" y2="803.5"/>
<line x1="1856" y1="793.5" x2="1858" y2="793.5"/>
<line x1="1856" y1="783.5" x2="1858" y2="783.5"/>
<line x1="1856" y1="772.5" x2="1858" y2="772.5"/>
<line x1="1856" y1="762.5" x2="1858" y2="762.5"/>
<line x1="1856" y1="752.5" x2="1858" y2="752.5"/>
<line x1="1856" y1="742.5" x2="1858" y2="742.5"/>
<line x1="1856" y1="732.5" x2="1858" y2="732.5"/>
<line x1="1856" y1="721.5" x2="1858" y2="721.5"/>
<line x1="1856" y1="711.5" x2="1858" y2="711.5"/>
<line x1="1856" y1="701.5" x2="1858" y2="701.5"/>
<line x1="1856" y1="691.5" x2="1858" y2="691.5"/>
<line x1="1856" y1="681.5" x2="1858" y2="681.5"/>
<line x1="1856" y1="670.5" x2="1858" y2="670.5"/>
<line x1="1856" y1="660.5" x2="1858" y2="660.5"/>
<line x1="1856" y1="650.5" x2="1858" y2="650.5"/>
<line x1="1856" y1="640.5" x2="1858" y2="640.5"/>
<line x1="1856" y1="629.5" x2="1858" y2="629.5"/>
<line x1="1856" y1="619.5" x2="1858" y2="619.5"/>
<line x1="1856" y1="609.5" x2="1858" y2="609.5"/>
<line x1="1856" y1="599.5" x2="1858" y2="599.5"/>
<line x1="1856" y1="589.5" x2="1858" y2="589.5"/>
<line x1="35" y1="880.5" x2="1855" y2="880.5"/>
<line x1="35" y1="891.5" x2="1855" y2="891.5"/>
<line x1="48.5" y1="880" x2="48.5" y2="892"/>
<line x1="72.5" y1="880" x2="72.5" y2="892"/>
<line x1="97.5" y1="880" x2="97.5" y2="892"/>
<line x1="121.5" y1="880" x2="121.5" y2="892"/>
<line x1="145.5" y1="880" x2="145.5" y2="892"/>
<line x1="170.5" y1="880" x2="170.5" y2="892"/>
<line x1="190.5" y1="880" x2="190.5" y2="892"/>
<line x1="214.5" y1="880" x2="214.5" y2="892"/>
<line x1="239.5" y1="880" x2="239.5" y2="892"/>
<line x1="263.5" y1="880" x2="263.5" y2="892"/>
<line x1="288.5" y1="880" x2="288.5" y2="892"/>
<line x1="313.5" y1="880" x2="313.5" y2="892"/>
<line x1="337.5" y1="880" x2="337.5" y2="892"/>
<line x1="362.5" y1="880" x2="362.5" y2="892"/>
<line x1="386.5" y1="880" x2="386.5" y2="892"/>
<line x1="410.5" y1="880" x2="410.5" y2="892"/>
<line x1="435.5" y1="880" x2="435.5" y2="892"/>
<line x1="459.5" y1="880" x2="459.5" y2="892"/>
<line x1="484.5" y1="880" x2="484.5" y2="892"/>
<line x1="508.5" y1="880" x2="508.5" y2="892"/>
<line x1="533.5" y1="880" x2="533.5" y2="892"/>
<line x1="558.5" y1="880" x2="558.5" y2="892"/>
<line x1="582.5" y1="880" x2="582.5" y2="892"/>
<line x1="607.5" y1="880" x2="607.5" y2="892"/>
<line x1="631.5" y1="880" x2="631.5" y2="892"/>
<line x1="641.5" y1="880" x2="641.5" y2="892"/>
<line x1="655.5" y1="880" x2="655.5" y2="892"/>
<line x1="680.5" y1="880" x2="680.5" y2="892"/>
<line x1="704.5" y1="880" x2="704.5" y2="892"/>
<line x1="729.5" y1="880" x2="729.5" y2="892"/>
<line x1="754.5" y1="880" x2="754.5" y2="892"/>
<line x1="778.5" y1="880" x2="778.5" y2="892"/>
<line x1="803.5" y1="880" x2="803.5" y2="892"/>
<line x1="827.5" y1="880" x2="827.5" y2="892"/>
<line x1="852.5" y1="880" x2="852.5" y2="892"/>
<line x1="876.5" y1="880" x2="876.5" y2="892"/>
<line x1="900.5" y1="880" x2="900.5" y2="892"/>
<line x1="925.5" y1="880" x2="925.5" y2="892"/>
<line x1="950.5" y1="880" x2="950.5" y2="892"/>
<line x1="974.5" y1="880" x2="974.5" y2="892"/>
<line x1="999.5" y1="880" x2="999.5" y2="892"/>
<line x1="1018.5" y1="880" x2="1018.5" y2="892"/>
<line x1="1038.5" y1="880" x2="1038.5" y2="892"/>
<line x1="1058.5" y1="880" x2="1058.5" y2="892"/>
<line x1="1082.5" y1="880" x2="1082.5" y2="892"/>
<line x1="1107.5" y1="880" x2="1107.5" y2="892"/>
<line x1="1131.5" y1="880" x2="1131.5" y2="892"/>
<line x1="1156.5" y1="880" x2="1156.5" y2="892"/>
<line x1="1180.5" y1="880" x2="1180.5" y2="892"/>
<line x1="1204.5" y1="880" x2="1204.5" y2="892"/>
<line x1="1229.5" y1="880" x2="1229.5" y2="892"/>
<line x1="1254.5" y1="880" x2="1254.5" y2="892"/>
<line x1="1278.5" y1="880" x2="1278.5" y2="892"/>
<line x1="1303.5" y1="880" x2="1303.5" y2="892"/>
<line x1="1327.5" y1="880" x2="1327.5" y2="892"/>
<line x1="1352.5" y1="880" x2="1352.5" y2="892"/>
<line x1="1377.5" y1="880" x2="1377.5" y2="892"/>
<line x1="1401.5" y1="880" x2="1401.5" y2="892"/>
<line x1="1420.5" y1="880" x2="1420.5" y2="892"/>
<line x1="1445.5" y1="880" x2="1445.5" y2="892"/>
<line x1="1469.5" y1="880" x2="1469.5" y2="892"/>
<line x1="1494.5" y1="880" x2="1494.5" y2="892"/>
<line x1="1518.5" y1="880" x2="1518.5" y2="892"/>
<line x1="1543.5" y1="880" x2="1543.5" y2="892"/>
<line x1="1568.5" y1="880" x2="1568.5" y2="892"/>
<line x1="1592.5" y1="880" x2="1592.5" y2="892"/>
<line x1="1617.5" y1="880" x2="1617.5" y2="892"/>
<line x1="1641.5" y1="880" x2="1641.5" y2="892"/>
<line x1="1666.5" y1="880" x2="1666.5" y2="892"/>
<line x1="1690.5" y1="880" x2="1690.5" y2="892"/>
<line x1="1714.5" y1="880" x2="1714.5" y2="892"/>
<line x1="1739.5" y1="880" x2="1739.5" y2="892"/>
<line x1="1764.5" y1="880" x2="1764.5" y2="892"/>
<line x1="1788.5" y1="880" x2="1788.5" y2="892"/>
<line x1="1813.5" y1="880" x2="1813.5" y2="892"/>
<line x1="1837.5" y1="880" x2="1837.5" y2="892"/>
<line x1="135.5" y1="880" x2="135.5" y2="902"/>
<line x1="239.5" y1="880" x2="239.5" y2="902"/>
<line x1="342.5" y1="880" x2="342.5" y2="902"/>
<line x1="454.5" y1="880" x2="454.5" y2="902"/>
<line x1="558.5" y1="880" x2="558.5" y2="902"/>
<line x1="645.5" y1="880" x2="645.5" y2="902"/>
<line x1="754.5" y1="880" x2="754.5" y2="902"/>
<line x1="852.5" y1="880" x2="852.5" y2="902"/>
<line x1="954.5" y1="880" x2="954.5" y2="902"/>
<line x1="1053.5" y1="880" x2="1053.5" y2="902"/>
<line x1="1156.5" y1="880" x2="1156.5" y2="902"/>
<line x1="1259.5" y1="880" x2="1259.5" y2="902"/>
<line x1="1372.5" y1="880" x2="1372.5" y2="902"/>
<line x1="1469.5" y1="880" x2="1469.5" y2="902"/>
<line x1="1577.5" y1="880" x2="1577.5" y2="902"/>
<line x1="1690.5" y1="880" x2="1690.5" y2="902"/>
<line x1="1788.5" y1="880" x2="1788.5" y2="902"/>
</g>
<g font-size="8.6" fill="#262640">
<text x="27" y="587.8" text-anchor="end">2.9</text><text x="1888" y="587.8" text-anchor="end">2.9</text>
<text x="27" y="570.6" text-anchor="end">3.0</text><text x="1888" y="570.6" text-anchor="end">3.0</text>
<text x="27" y="553.4" text-anchor="end">3.1</text><text x="1888" y="553.4" text-anchor="end">3.1</text>
<text x="27" y="536.2" text-anchor="end">3.2</text><text x="1888" y="536.2" text-anchor="end">3.2</text>
<text x="27" y="518.9" text-anchor="end">3.3</text><text x="1888" y="518.9" text-anchor="end">3.3</text>
<text x="27" y="501.7" text-anchor="end">3.4</text><text x="1888" y="501.7" text-anchor="end">3.4</text>
<text x="27" y="484.5" text-anchor="end">3.5</text><text x="1888" y="484.5" text-anchor="end">3.5</text>
<text x="27" y="467.3" text-anchor="end">3.6</text><text x="1888" y="467.3" text-anchor="end">3.6</text>
<text x="27" y="450.1" text-anchor="end">3.7</text><text x="1888" y="450.1" text-anchor="end">3.7</text>
<text x="27" y="432.8" text-anchor="end">3.8</text><text x="1888" y="432.8" text-anchor="end">3.8</text>
<text x="27" y="415.6" text-anchor="end">3.9</text><text x="1888" y="415.6" text-anchor="end">3.9</text>
<text x="27" y="398.4" text-anchor="end">4.0</text><text x="1888" y="398.4" text-anchor="end">4.0</text>
<text x="27" y="381.2" text-anchor="end">4.1</text><text x="1888" y="381.2" text-anchor="end">4.1</text>
<text x="27" y="364.0" text-anchor="end">4.2</text><text x="1888" y="364.0" text-anchor="end">4.2</text>
<text x="27" y="346.7" text-anchor="end">4.3</text><text x="1888" y="346.7" text-anchor="end">4.3</text>
<text x="27" y="329.5" text-anchor="end">4.4</text><text x="1888" y="329.5" text-anchor="end">4.4</text>
<text x="27" y="312.3" text-anchor="end">4.5</text><text x="1888" y="312.3" text-anchor="end">4.5</text>
<text x="27" y="295.1" text-anchor="end">4.6</text><text x="1888" y="295.1" text-anchor="end">4.6</text>
<text x="27" y="277.9" text-anchor="end">4.7</text><text x="1888" y="277.9" text-anchor="end">4.7</text>
<text x="27" y="260.6" text-anchor="end">4.8</text><text x="1888" y="260.6" text-anchor="end">4.8</text>
<text x="27" y="243.4" text-anchor="end">4.9</text><text x="1888" y="243.4" text-anchor="end">4.9</text>
<text x="27" y="226.2" text-anchor="end">5.0</text><text x="1888" y="226.2" text-anchor="end">5.0</text>
<text x="27" y="209.0" text-anchor="end">5.1</text><text x="1888" y="209.0" text-anchor="end">5.1</text>
<text x="27" y="191.8" text-anchor="end">5.2</text><text x="1888" y="191.8" text-anchor="end">5.2</text>
<text x="27" y="174.5" text-anchor="end">5.3</text><text x="1888" y="174.5" text-anchor="end">5.3</text>
<text x="27" y="157.3" text-anchor="end">5.4</text><text x="1888" y="157.3" text-anchor="end">5.4</text>
<text x="27" y="140.1" text-anchor="end">5.5</text><text x="1888" y="140.1" text-anchor="end">5.5</text>
<text x="27" y="122.9" text-anchor="end">5.6</text><text x="1888" y="122.9" text-anchor="end">5.6</text>
<text x="27" y="105.7" text-anchor="end">5.7</text><text x="1888" y="105.7" text-anchor="end">5.7</text>
<text x="27" y="88.4" text-anchor="end">5.8</text><text x="1888" y="88.4" text-anchor="end">5.8</text>
<text x="27" y="71.2" text-anchor="end">5.9</text><text x="1888" y="71.2" text-anchor="end">5.9</text>
<text x="27" y="54.0" text-anchor="end">6.0</text><text x="1888" y="54.0" text-anchor="end">6.0</text>
<text x="27" y="36.8" text-anchor="end">6.1</text><text x="1888" y="36.8" text-anchor="end">6.1</text>
<text x="27" y="19.6" text-anchor="end">6.2</text><text x="1888" y="19.6" text-anchor="end">6.2</text>
<text x="27" y="878.2" text-anchor="end">0</text>
<text x="27" y="864.5" text-anchor="end">5</text>
<text x="27" y="850.9" text-anchor="end">10</text>
<text x="27" y="837.2" text-anchor="end">15</text>
<text x="27" y="823.5" text-anchor="end">20</text>
<text x="27" y="809.8" text-anchor="end">25</text>
<text x="27" y="796.2" text-anchor="end">30</text>
<text x="27" y="782.5" text-anchor="end">35</text>
<text x="27" y="768.8" text-anchor="end">40</text>
<text x="27" y="755.1" text-anchor="end">45</text>
<text x="27" y="741.5" text-anchor="end">50</text>
<text x="27" y="727.8" text-anchor="end">55</text>
<text x="27" y="714.1" text-anchor="end">60</text>
<text x="27" y="700.4" text-anchor="end">65</text>
<text x="27" y="686.8" text-anchor="end">70</text>
<text x="27" y="673.1" text-anchor="end">75</text>
<text x="27" y="659.4" text-anchor="end">80</text>
<text x="27" y="645.7" text-anchor="end">85</text>
<text x="27" y="632.1" text-anchor="end">90</text>
<text x="27" y="618.4" text-anchor="end">95</text>
<text x="27" y="604.7" text-anchor="end">100</text>
<text x="1888" y="873.5" text-anchor="end">1000</text>
<text x="1888" y="863.3" text-anchor="end">2000</text>
<text x="1888" y="853.0" text-anchor="end">3000</text>
<text x="1888" y="842.8" text-anchor="end">4000</text>
<text x="1888" y="832.6" text-anchor="end">5000</text>
<text x="1888" y="822.4" text-anchor="end">6000</text>
<text x="1888" y="812.2" text-anchor="end">7000</text>
<text x="1888" y="801.9" text-anchor="end">8000</text>
<text x="1888" y="791.7" text-anchor="end">9000</text>
<text x="1888" y="781.5" text-anchor="end">10000</text>
<text x="1888" y="771.3" text-anchor="end">11000</text>
<text x="1888" y="761.1" text-anchor="end">12000</text>
<text x="1888" y="750.8" text-anchor="end">13000</text>
<text x="1888" y="740.6" text-anchor="end">14000</text>
<text x="1888" y="730.4" text-anchor="end">15000</text>
<text x="1888" y="720.2" text-anchor="end">16000</text>
<text x="1888" y="710.0" text-anchor="end">17000</text>
<text x="1888" y="699.7" text-anchor="end">18000</text>
<text x="1888" y="689.5" text-anchor="end">19000</text>
<text x="1888" y="679.3" text-anchor="end">20000</text>
<text x="1888" y="669.1" text-anchor="end">21000</text>
<text x="1888" y="658.9" text-anchor="end">22000</text>
<text x="1888" y="648.6" text-anchor="end">23000</text>
<text x="1888" y="638.4" text-anchor="end">24000</text>
<text x="1888" y="628.2" text-anchor="end">25000</text>
<text x="1888" y="618.0" text-anchor="end">26000</text>
<text x="1888" y="607.8" text-anchor="end">27000</text>
<text x="1888" y="597.5" text-anchor="end">28000</text>
<text x="49.4" y="889.3">8</text>
<text x="73.4" y="889.3">15</text>
<text x="98.4" y="889.3">22</text>
<text x="122.4" y="889.3">29</text>
<text x="146.4" y="889.3">5</text>
<text x="171.4" y="889.3">12</text>
<text x="191.4" y="889.3">19</text>
<text x="215.4" y="889.3">26</text>
<text x="240.4" y="889.3">2</text>
<text x="264.4" y="889.3">9</text>
<text x="289.4" y="889.3">16</text>
<text x="314.4" y="889.3">23</text>
<text x="338.4" y="889.3">30</text>
<text x="363.4" y="889.3">7</text>
<text x="387.4" y="889.3">14</text>
<text x="411.4" y="889.3">21</text>
<text x="436.4" y="889.3">28</text>
<text x="460.4" y="889.3">4</text>
<text x="485.4" y="889.3">11</text>
<text x="509.4" y="889.3">18</text>
<text x="534.4" y="889.3">25</text>
<text x="559.4" y="889.3">2</text>
<text x="583.4" y="889.3">9</text>
<text x="608.4" y="889.3">16</text>
<text x="632.4" y="889.3">23</text>
<text x="656.4" y="889.3">6</text>
<text x="681.4" y="889.3">13</text>
<text x="705.4" y="889.3">20</text>
<text x="730.4" y="889.3">27</text>
<text x="755.4" y="889.3">3</text>
<text x="779.4" y="889.3">10</text>
<text x="804.4" y="889.3">17</text>
<text x="828.4" y="889.3">24</text>
<text x="853.4" y="889.3">3</text>
<text x="877.4" y="889.3">10</text>
<text x="901.4" y="889.3">17</text>
<text x="926.4" y="889.3">24</text>
<text x="951.4" y="889.3">31</text>
<text x="975.4" y="889.3">7</text>
<text x="1000.4" y="889.3">14</text>
<text x="1019.4" y="889.3">22</text>
<text x="1039.4" y="889.3">28</text>
<text x="1059.4" y="889.3">5</text>
<text x="1083.4" y="889.3">12</text>
<text x="1108.4" y="889.3">19</text>
<text x="1132.4" y="889.3">26</text>
<text x="1157.4" y="889.3">2</text>
<text x="1181.4" y="889.3">9</text>
<text x="1205.4" y="889.3">16</text>
<text x="1230.4" y="889.3">23</text>
<text x="1255.4" y="889.3">30</text>
<text x="1279.4" y="889.3">7</text>
<text x="1304.4" y="889.3">14</text>
<text x="1328.4" y="889.3">21</text>
<text x="1353.4" y="889.3">28</text>
<text x="1378.4" y="889.3">4</text>
<text x="1402.4" y="889.3">11</text>
<text x="1421.4" y="889.3">18</text>
<text x="1446.4" y="889.3">25</text>
<text x="1470.4" y="889.3">1</text>
<text x="1495.4" y="889.3">8</text>
<text x="1519.4" y="889.3">15</text>
<text x="1544.4" y="889.3">22</text>
<text x="1569.4" y="889.3">29</text>
<text x="1593.4" y="889.3">6</text>
<text x="1618.4" y="889.3">13</text>
<text x="1642.4" y="889.3">20</text>
<text x="1667.4" y="889.3">27</text>
<text x="1691.4" y="889.3">3</text>
<text x="1715.4" y="889.3">10</text>
<text x="1740.4" y="889.3">17</text>
<text x="1765.4" y="889.3">24</text>
<text x="1789.4" y="889.3">1</text>
<text x="1814.4" y="889.3">8</text>
<text x="1838.4" y="889.3">15</text>
<text x="136.6" y="900.3">August</text>
<text x="240.6" y="900.3">September</text>
<text x="343.6" y="900.3">October</text>
<text x="455.6" y="900.3">November</text>
<text x="559.6" y="900.3">December</text>
<text x="646.6" y="900.3">2025</text>
<text x="755.6" y="900.3">February</text>
<text x="853.6" y="900.3">March</text>
<text x="955.6" y="900.3">April</text>
<text x="1054.6" y="900.3">May</text>
<text x="1157.6" y="900.3">June</text>
<text x="1260.6" y="900.3">July</text>
<text x="1373.6" y="900.3">August</text>
<text x="1470.6" y="900.3">September</text>
<text x="1578.6" y="900.3">October</text>
<text x="1691.6" y="900.3">November</text>
<text x="1789.6" y="900.3">December</text>
<text x="36" y="900.3">y</text>
</g>
<text x="813" y="11" font-size="8.3" fill="#262640" textLength="265" lengthAdjust="spacingAndGlyphs">INTESA SANPAOLO (5.61000, 5.64700, 5.57500, 5.63000, +0.02900)</text>
<rect x="1857" y="872" width="24" height="8" fill="#fff"/>
<polyline points="1857.5,880 1857.5,872.5 1880.5,872.5 1880.5,880" fill="none" stroke="#000" stroke-width="1" shape-rendering="crispEdges"/>
<text x="1859" y="878.6" font-size="6" fill="#262640" textLength="19.5" lengthAdjust="spacingAndGlyphs">x10000</text>
<rect x="200.5" y="57.5" width="385" height="64" fill="#fff" stroke="#000" stroke-width="1" shape-rendering="crispEdges"/>
<text x="203.5" y="69.9" font-size="13.6" font-weight="bold" fill="#000" textLength="362.5" lengthAdjust="spacingAndGlyphs">Small white doji sui 5,63 per Intesa che sale leggermente</text>
<text x="202.5" y="85.6" font-size="13.6" font-weight="bold" fill="#000" textLength="379.8" lengthAdjust="spacingAndGlyphs">senza trovare la forza che ha Unicredit in questo momento.</text>
<text x="203" y="101.5" font-size="13.6" font-weight="bold" fill="#000" textLength="345.3" lengthAdjust="spacingAndGlyphs">Resistenza tra i 5,7 e i 5,75, pericolo sotto i 5,40 e stop</text>
<text x="203" y="117.7" font-size="13.6" font-weight="bold" fill="#000" textLength="220.3" lengthAdjust="spacingAndGlyphs">profit sotto i 5,25 per il nostro buy.</text>
<rect x="519.5" y="556.5" width="207" height="12" fill="#fff" stroke="#000" stroke-width="1" shape-rendering="crispEdges"/>
<text x="521.7" y="566" font-size="9.9" font-weight="bold" fill="#000" textLength="202.8" lengthAdjust="spacingAndGlyphs">COPYRIGHT@LABORSADEIPICCOLI.COM</text>
</svg></body></html>
